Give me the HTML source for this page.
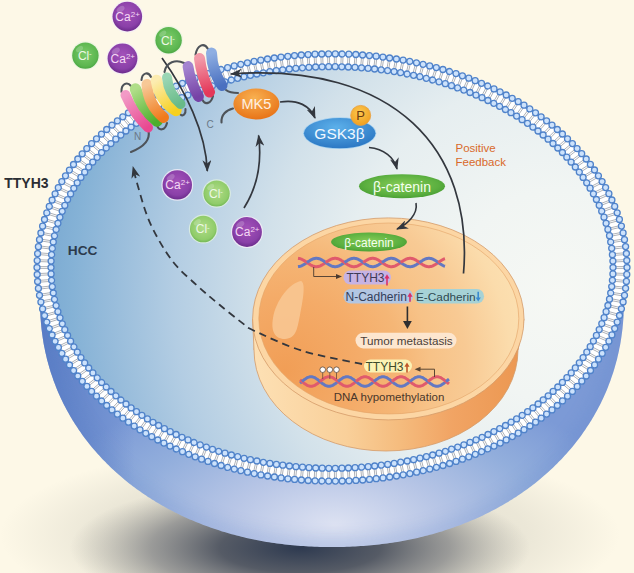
<!DOCTYPE html>
<html><head><meta charset="utf-8"><style>html,body{margin:0;padding:0;background:#fcf8e7;}svg{display:block;}text{font-family:"Liberation Sans",sans-serif;}</style></head>
<body><svg width="634" height="573" viewBox="0 0 634 573">
<defs>
<radialGradient id="shadowC" cx="300" cy="548" r="230" gradientUnits="userSpaceOnUse" gradientTransform="translate(300 548) scale(1 0.3043) translate(-300 -548)">
<stop offset="0" stop-color="#2e3a50" stop-opacity="1"/>
<stop offset="0.35" stop-color="#4e5460" stop-opacity="0.95"/>
<stop offset="0.65" stop-color="#7a7c80" stop-opacity="0.7"/>
<stop offset="1" stop-color="#9a9a94" stop-opacity="0"/>
</radialGradient>
<radialGradient id="shadowW" cx="310" cy="535" r="310" gradientUnits="userSpaceOnUse" gradientTransform="translate(310 535) scale(1 0.3) translate(-310 -535)">
<stop offset="0" stop-color="#8a8a84" stop-opacity="0.3"/>
<stop offset="0.7" stop-color="#9a9a90" stop-opacity="0.18"/>
<stop offset="1" stop-color="#9a9a90" stop-opacity="0"/>
</radialGradient>
<radialGradient id="bowlg" cx="335" cy="525" r="300" gradientUnits="userSpaceOnUse" gradientTransform="translate(335 525) scale(1 0.5) translate(-335 -525)">
<stop offset="0" stop-color="#dde2f2"/>
<stop offset="0.35" stop-color="#b8c6e6"/>
<stop offset="0.7" stop-color="#92aedc"/>
<stop offset="1" stop-color="#7c9ad6"/>
</radialGradient>
<linearGradient id="bowlL" x1="35" y1="0" x2="135" y2="0" gradientUnits="userSpaceOnUse">
<stop offset="0" stop-color="#3e66b8" stop-opacity="0.6"/>
<stop offset="1" stop-color="#3e66b8" stop-opacity="0"/>
</linearGradient>
<radialGradient id="cyto" cx="560" cy="295" r="530" gradientUnits="userSpaceOnUse">
<stop offset="0" stop-color="#f6f8f4"/>
<stop offset="0.2" stop-color="#f1f5f3"/>
<stop offset="0.41" stop-color="#e6eef0"/>
<stop offset="0.56" stop-color="#d2e1ea"/>
<stop offset="0.73" stop-color="#b3cde3"/>
<stop offset="0.86" stop-color="#94bada"/>
<stop offset="0.92" stop-color="#85b2d6"/>
<stop offset="1" stop-color="#76a6d0"/>
</radialGradient>
<linearGradient id="nside" x1="254" y1="0" x2="518" y2="0" gradientUnits="userSpaceOnUse">
<stop offset="0" stop-color="#fde0b4"/>
<stop offset="0.35" stop-color="#f9d09a"/>
<stop offset="0.55" stop-color="#f5bc7e"/>
<stop offset="0.75" stop-color="#f1a464"/>
<stop offset="1" stop-color="#ec9852"/>
</linearGradient>
<radialGradient id="nface" cx="285" cy="370" r="260" gradientUnits="userSpaceOnUse">
<stop offset="0" stop-color="#f19e56"/>
<stop offset="0.28" stop-color="#f4ab68"/>
<stop offset="0.45" stop-color="#f5b676"/>
<stop offset="0.56" stop-color="#f7c287"/>
<stop offset="0.7" stop-color="#f8ca94"/>
<stop offset="0.87" stop-color="#fbdcac"/>
<stop offset="1" stop-color="#fce2b4"/>
</radialGradient>
<radialGradient id="purp" cx="0.5" cy="0.4" r="0.6">
<stop offset="0" stop-color="#a452ba"/>
<stop offset="0.75" stop-color="#8a40a8"/>
<stop offset="1" stop-color="#6c2c8c"/>
</radialGradient>
<radialGradient id="grn" cx="0.5" cy="0.45" r="0.6">
<stop offset="0" stop-color="#7ccc6a"/>
<stop offset="0.75" stop-color="#5cb650"/>
<stop offset="1" stop-color="#44a03e"/>
</radialGradient>
<radialGradient id="lgrn" cx="0.5" cy="0.45" r="0.6">
<stop offset="0" stop-color="#b0dc88"/>
<stop offset="0.75" stop-color="#90cc6a"/>
<stop offset="1" stop-color="#66ae4c"/>
</radialGradient>
<radialGradient id="mk5" cx="0.45" cy="0.3" r="0.7">
<stop offset="0" stop-color="#f8b050"/>
<stop offset="1" stop-color="#e87418"/>
</radialGradient>
<radialGradient id="gsk" cx="0.45" cy="0.3" r="0.7">
<stop offset="0" stop-color="#5cb0ea"/>
<stop offset="1" stop-color="#2c78c4"/>
</radialGradient>
<radialGradient id="bcat" cx="0.5" cy="0.45" r="0.6">
<stop offset="0" stop-color="#86cc56"/>
<stop offset="0.7" stop-color="#5cb040"/>
<stop offset="1" stop-color="#449a30"/>
</radialGradient>
<radialGradient id="pg" cx="0.45" cy="0.35" r="0.65">
<stop offset="0" stop-color="#fcc850"/>
<stop offset="1" stop-color="#f0a020"/>
</radialGradient>
<filter id="blur1" x="-50%" y="-100%" width="200%" height="300%"><feGaussianBlur stdDeviation="24"/></filter>
<filter id="blur2" x="-50%" y="-100%" width="200%" height="300%"><feGaussianBlur stdDeviation="13"/></filter>
<filter id="blur3" x="-20%" y="-20%" width="140%" height="140%"><feGaussianBlur stdDeviation="9"/></filter>
<marker id="ah" viewBox="0 0 12 9" refX="11" refY="4.5" markerWidth="12" markerHeight="9" markerUnits="userSpaceOnUse" orient="auto">
<path d="M0,0 L12,4.5 L0,9 L3.5,4.5 Z" fill="#33373e"/>
</marker>
</defs>
<rect width="634" height="573" fill="#fdf8e7"/>
<rect x="0" y="440" width="634" height="133" fill="url(#shadowW)"/>
<rect x="0" y="470" width="634" height="103" fill="url(#shadowC)"/>
<clipPath id="bowlclip"><path d="M 624,262 L 624,300 L 624,302.7 L 624,305.2 L 623.9,307.7 L 623.8,310.1 L 623.7,312.5 L 623.6,314.9 L 623.5,317.2 L 623.3,319.6 L 623.1,321.9 L 622.9,324.2 L 622.7,326.5 L 622.5,328.7 L 622.2,331 L 621.9,333.3 L 621.6,335.5 L 621.3,337.8 L 620.9,340 L 620.6,342.2 L 620.2,344.4 L 619.8,346.6 L 619.3,348.8 L 618.9,351 L 618.4,353.2 L 617.9,355.3 L 617.4,357.5 L 616.9,359.7 L 616.3,361.8 L 615.7,363.9 L 615.1,366.1 L 614.5,368.2 L 613.9,370.3 L 613.2,372.4 L 612.5,374.5 L 611.8,376.6 L 611.1,378.6 L 610.4,380.7 L 609.6,382.8 L 608.8,384.8 L 608,386.9 L 607.2,388.9 L 606.4,390.9 L 605.5,392.9 L 604.6,395 L 603.7,397 L 602.8,398.9 L 601.8,400.9 L 600.9,402.9 L 599.9,404.9 L 598.9,406.8 L 597.9,408.8 L 596.8,410.7 L 595.8,412.6 L 594.7,414.5 L 593.6,416.4 L 592.5,418.3 L 591.4,420.2 L 590.2,422.1 L 589,423.9 L 587.8,425.8 L 586.6,427.6 L 585.4,429.5 L 584.1,431.3 L 582.9,433.1 L 581.6,434.9 L 580.3,436.7 L 579,438.5 L 577.6,440.2 L 576.2,442 L 574.9,443.7 L 573.5,445.5 L 572.1,447.2 L 570.6,448.9 L 569.2,450.6 L 567.7,452.3 L 566.2,454 L 564.7,455.6 L 563.2,457.3 L 561.7,458.9 L 560.1,460.5 L 558.5,462.1 L 557,463.7 L 555.3,465.3 L 553.7,466.9 L 552.1,468.5 L 550.4,470 L 548.8,471.6 L 547.1,473.1 L 545.4,474.6 L 543.6,476.1 L 541.9,477.6 L 540.2,479 L 538.4,480.5 L 536.6,481.9 L 534.8,483.4 L 533,484.8 L 531.2,486.2 L 529.3,487.6 L 527.5,488.9 L 525.6,490.3 L 523.7,491.6 L 521.8,493 L 519.9,494.3 L 517.9,495.6 L 516,496.9 L 514,498.1 L 512,499.4 L 510,500.6 L 508,501.9 L 506,503.1 L 504,504.3 L 501.9,505.4 L 499.9,506.6 L 497.8,507.8 L 495.7,508.9 L 493.6,510 L 491.5,511.1 L 489.4,512.2 L 487.2,513.3 L 485.1,514.3 L 482.9,515.4 L 480.7,516.4 L 478.5,517.4 L 476.3,518.4 L 474.1,519.4 L 471.9,520.3 L 469.6,521.3 L 467.4,522.2 L 465.1,523.1 L 462.9,524 L 460.6,524.9 L 458.3,525.8 L 456,526.6 L 453.6,527.4 L 451.3,528.3 L 449,529.1 L 446.6,529.8 L 444.3,530.6 L 441.9,531.4 L 439.5,532.1 L 437.1,532.8 L 434.7,533.5 L 432.3,534.2 L 429.9,534.8 L 427.4,535.5 L 425,536.1 L 422.5,536.7 L 420.1,537.3 L 417.6,537.9 L 415.1,538.4 L 412.6,539 L 410.1,539.5 L 407.6,540 L 405.1,540.5 L 402.5,541 L 400,541.4 L 397.4,541.9 L 394.9,542.3 L 392.3,542.7 L 389.7,543.1 L 387.1,543.4 L 384.5,543.8 L 381.9,544.1 L 379.3,544.4 L 376.6,544.7 L 374,545 L 371.3,545.2 L 368.7,545.5 L 366,545.7 L 363.3,545.9 L 360.6,546.1 L 357.9,546.3 L 355.1,546.4 L 352.4,546.6 L 349.6,546.7 L 346.8,546.8 L 344,546.9 L 341.1,546.9 L 338.2,547 L 335.2,547 L 332,547 L 328.8,547 L 325.8,547 L 322.9,546.9 L 320,546.9 L 317.2,546.8 L 314.4,546.7 L 311.6,546.6 L 308.9,546.4 L 306.1,546.3 L 303.4,546.1 L 300.7,545.9 L 298,545.7 L 295.3,545.5 L 292.7,545.2 L 290,545 L 287.4,544.7 L 284.7,544.4 L 282.1,544.1 L 279.5,543.8 L 276.9,543.4 L 274.3,543.1 L 271.7,542.7 L 269.1,542.3 L 266.6,541.9 L 264,541.4 L 261.5,541 L 258.9,540.5 L 256.4,540 L 253.9,539.5 L 251.4,539 L 248.9,538.4 L 246.4,537.9 L 243.9,537.3 L 241.5,536.7 L 239,536.1 L 236.6,535.5 L 234.1,534.8 L 231.7,534.2 L 229.3,533.5 L 226.9,532.8 L 224.5,532.1 L 222.1,531.4 L 219.7,530.6 L 217.4,529.8 L 215,529.1 L 212.7,528.3 L 210.4,527.4 L 208,526.6 L 205.7,525.8 L 203.4,524.9 L 201.1,524 L 198.9,523.1 L 196.6,522.2 L 194.4,521.3 L 192.1,520.3 L 189.9,519.4 L 187.7,518.4 L 185.5,517.4 L 183.3,516.4 L 181.1,515.4 L 178.9,514.3 L 176.8,513.3 L 174.6,512.2 L 172.5,511.1 L 170.4,510 L 168.3,508.9 L 166.2,507.8 L 164.1,506.6 L 162.1,505.4 L 160,504.3 L 158,503.1 L 156,501.9 L 154,500.6 L 152,499.4 L 150,498.1 L 148,496.9 L 146.1,495.6 L 144.1,494.3 L 142.2,493 L 140.3,491.6 L 138.4,490.3 L 136.5,488.9 L 134.7,487.6 L 132.8,486.2 L 131,484.8 L 129.2,483.4 L 127.4,481.9 L 125.6,480.5 L 123.8,479 L 122.1,477.6 L 120.4,476.1 L 118.6,474.6 L 116.9,473.1 L 115.2,471.6 L 113.6,470 L 111.9,468.5 L 110.3,466.9 L 108.7,465.3 L 107,463.7 L 105.5,462.1 L 103.9,460.5 L 102.3,458.9 L 100.8,457.3 L 99.3,455.6 L 97.8,454 L 96.3,452.3 L 94.8,450.6 L 93.4,448.9 L 91.9,447.2 L 90.5,445.5 L 89.1,443.7 L 87.8,442 L 86.4,440.2 L 85,438.5 L 83.7,436.7 L 82.4,434.9 L 81.1,433.1 L 79.9,431.3 L 78.6,429.5 L 77.4,427.6 L 76.2,425.8 L 75,423.9 L 73.8,422.1 L 72.6,420.2 L 71.5,418.3 L 70.4,416.4 L 69.3,414.5 L 68.2,412.6 L 67.2,410.7 L 66.1,408.8 L 65.1,406.8 L 64.1,404.9 L 63.1,402.9 L 62.2,400.9 L 61.2,398.9 L 60.3,397 L 59.4,395 L 58.5,392.9 L 57.6,390.9 L 56.8,388.9 L 56,386.9 L 55.2,384.8 L 54.4,382.8 L 53.6,380.7 L 52.9,378.6 L 52.2,376.6 L 51.5,374.5 L 50.8,372.4 L 50.1,370.3 L 49.5,368.2 L 48.9,366.1 L 48.3,363.9 L 47.7,361.8 L 47.1,359.7 L 46.6,357.5 L 46.1,355.3 L 45.6,353.2 L 45.1,351 L 44.7,348.8 L 44.2,346.6 L 43.8,344.4 L 43.4,342.2 L 43.1,340 L 42.7,337.8 L 42.4,335.5 L 42.1,333.3 L 41.8,331 L 41.5,328.7 L 41.3,326.5 L 41.1,324.2 L 40.9,321.9 L 40.7,319.6 L 40.5,317.2 L 40.4,314.9 L 40.3,312.5 L 40.2,310.1 L 40.1,307.7 L 40,305.2 L 40,302.7 L 40,300 L 40,262 Z"/></clipPath>
<path d="M 624,262 L 624,300 L 624,302.7 L 624,305.2 L 623.9,307.7 L 623.8,310.1 L 623.7,312.5 L 623.6,314.9 L 623.5,317.2 L 623.3,319.6 L 623.1,321.9 L 622.9,324.2 L 622.7,326.5 L 622.5,328.7 L 622.2,331 L 621.9,333.3 L 621.6,335.5 L 621.3,337.8 L 620.9,340 L 620.6,342.2 L 620.2,344.4 L 619.8,346.6 L 619.3,348.8 L 618.9,351 L 618.4,353.2 L 617.9,355.3 L 617.4,357.5 L 616.9,359.7 L 616.3,361.8 L 615.7,363.9 L 615.1,366.1 L 614.5,368.2 L 613.9,370.3 L 613.2,372.4 L 612.5,374.5 L 611.8,376.6 L 611.1,378.6 L 610.4,380.7 L 609.6,382.8 L 608.8,384.8 L 608,386.9 L 607.2,388.9 L 606.4,390.9 L 605.5,392.9 L 604.6,395 L 603.7,397 L 602.8,398.9 L 601.8,400.9 L 600.9,402.9 L 599.9,404.9 L 598.9,406.8 L 597.9,408.8 L 596.8,410.7 L 595.8,412.6 L 594.7,414.5 L 593.6,416.4 L 592.5,418.3 L 591.4,420.2 L 590.2,422.1 L 589,423.9 L 587.8,425.8 L 586.6,427.6 L 585.4,429.5 L 584.1,431.3 L 582.9,433.1 L 581.6,434.9 L 580.3,436.7 L 579,438.5 L 577.6,440.2 L 576.2,442 L 574.9,443.7 L 573.5,445.5 L 572.1,447.2 L 570.6,448.9 L 569.2,450.6 L 567.7,452.3 L 566.2,454 L 564.7,455.6 L 563.2,457.3 L 561.7,458.9 L 560.1,460.5 L 558.5,462.1 L 557,463.7 L 555.3,465.3 L 553.7,466.9 L 552.1,468.5 L 550.4,470 L 548.8,471.6 L 547.1,473.1 L 545.4,474.6 L 543.6,476.1 L 541.9,477.6 L 540.2,479 L 538.4,480.5 L 536.6,481.9 L 534.8,483.4 L 533,484.8 L 531.2,486.2 L 529.3,487.6 L 527.5,488.9 L 525.6,490.3 L 523.7,491.6 L 521.8,493 L 519.9,494.3 L 517.9,495.6 L 516,496.9 L 514,498.1 L 512,499.4 L 510,500.6 L 508,501.9 L 506,503.1 L 504,504.3 L 501.9,505.4 L 499.9,506.6 L 497.8,507.8 L 495.7,508.9 L 493.6,510 L 491.5,511.1 L 489.4,512.2 L 487.2,513.3 L 485.1,514.3 L 482.9,515.4 L 480.7,516.4 L 478.5,517.4 L 476.3,518.4 L 474.1,519.4 L 471.9,520.3 L 469.6,521.3 L 467.4,522.2 L 465.1,523.1 L 462.9,524 L 460.6,524.9 L 458.3,525.8 L 456,526.6 L 453.6,527.4 L 451.3,528.3 L 449,529.1 L 446.6,529.8 L 444.3,530.6 L 441.9,531.4 L 439.5,532.1 L 437.1,532.8 L 434.7,533.5 L 432.3,534.2 L 429.9,534.8 L 427.4,535.5 L 425,536.1 L 422.5,536.7 L 420.1,537.3 L 417.6,537.9 L 415.1,538.4 L 412.6,539 L 410.1,539.5 L 407.6,540 L 405.1,540.5 L 402.5,541 L 400,541.4 L 397.4,541.9 L 394.9,542.3 L 392.3,542.7 L 389.7,543.1 L 387.1,543.4 L 384.5,543.8 L 381.9,544.1 L 379.3,544.4 L 376.6,544.7 L 374,545 L 371.3,545.2 L 368.7,545.5 L 366,545.7 L 363.3,545.9 L 360.6,546.1 L 357.9,546.3 L 355.1,546.4 L 352.4,546.6 L 349.6,546.7 L 346.8,546.8 L 344,546.9 L 341.1,546.9 L 338.2,547 L 335.2,547 L 332,547 L 328.8,547 L 325.8,547 L 322.9,546.9 L 320,546.9 L 317.2,546.8 L 314.4,546.7 L 311.6,546.6 L 308.9,546.4 L 306.1,546.3 L 303.4,546.1 L 300.7,545.9 L 298,545.7 L 295.3,545.5 L 292.7,545.2 L 290,545 L 287.4,544.7 L 284.7,544.4 L 282.1,544.1 L 279.5,543.8 L 276.9,543.4 L 274.3,543.1 L 271.7,542.7 L 269.1,542.3 L 266.6,541.9 L 264,541.4 L 261.5,541 L 258.9,540.5 L 256.4,540 L 253.9,539.5 L 251.4,539 L 248.9,538.4 L 246.4,537.9 L 243.9,537.3 L 241.5,536.7 L 239,536.1 L 236.6,535.5 L 234.1,534.8 L 231.7,534.2 L 229.3,533.5 L 226.9,532.8 L 224.5,532.1 L 222.1,531.4 L 219.7,530.6 L 217.4,529.8 L 215,529.1 L 212.7,528.3 L 210.4,527.4 L 208,526.6 L 205.7,525.8 L 203.4,524.9 L 201.1,524 L 198.9,523.1 L 196.6,522.2 L 194.4,521.3 L 192.1,520.3 L 189.9,519.4 L 187.7,518.4 L 185.5,517.4 L 183.3,516.4 L 181.1,515.4 L 178.9,514.3 L 176.8,513.3 L 174.6,512.2 L 172.5,511.1 L 170.4,510 L 168.3,508.9 L 166.2,507.8 L 164.1,506.6 L 162.1,505.4 L 160,504.3 L 158,503.1 L 156,501.9 L 154,500.6 L 152,499.4 L 150,498.1 L 148,496.9 L 146.1,495.6 L 144.1,494.3 L 142.2,493 L 140.3,491.6 L 138.4,490.3 L 136.5,488.9 L 134.7,487.6 L 132.8,486.2 L 131,484.8 L 129.2,483.4 L 127.4,481.9 L 125.6,480.5 L 123.8,479 L 122.1,477.6 L 120.4,476.1 L 118.6,474.6 L 116.9,473.1 L 115.2,471.6 L 113.6,470 L 111.9,468.5 L 110.3,466.9 L 108.7,465.3 L 107,463.7 L 105.5,462.1 L 103.9,460.5 L 102.3,458.9 L 100.8,457.3 L 99.3,455.6 L 97.8,454 L 96.3,452.3 L 94.8,450.6 L 93.4,448.9 L 91.9,447.2 L 90.5,445.5 L 89.1,443.7 L 87.8,442 L 86.4,440.2 L 85,438.5 L 83.7,436.7 L 82.4,434.9 L 81.1,433.1 L 79.9,431.3 L 78.6,429.5 L 77.4,427.6 L 76.2,425.8 L 75,423.9 L 73.8,422.1 L 72.6,420.2 L 71.5,418.3 L 70.4,416.4 L 69.3,414.5 L 68.2,412.6 L 67.2,410.7 L 66.1,408.8 L 65.1,406.8 L 64.1,404.9 L 63.1,402.9 L 62.2,400.9 L 61.2,398.9 L 60.3,397 L 59.4,395 L 58.5,392.9 L 57.6,390.9 L 56.8,388.9 L 56,386.9 L 55.2,384.8 L 54.4,382.8 L 53.6,380.7 L 52.9,378.6 L 52.2,376.6 L 51.5,374.5 L 50.8,372.4 L 50.1,370.3 L 49.5,368.2 L 48.9,366.1 L 48.3,363.9 L 47.7,361.8 L 47.1,359.7 L 46.6,357.5 L 46.1,355.3 L 45.6,353.2 L 45.1,351 L 44.7,348.8 L 44.2,346.6 L 43.8,344.4 L 43.4,342.2 L 43.1,340 L 42.7,337.8 L 42.4,335.5 L 42.1,333.3 L 41.8,331 L 41.5,328.7 L 41.3,326.5 L 41.1,324.2 L 40.9,321.9 L 40.7,319.6 L 40.5,317.2 L 40.4,314.9 L 40.3,312.5 L 40.2,310.1 L 40.1,307.7 L 40,305.2 L 40,302.7 L 40,300 L 40,262 Z" fill="url(#bowlg)"/>
<path d="M 624,262 L 624,300 L 624,302.7 L 624,305.2 L 623.9,307.7 L 623.8,310.1 L 623.7,312.5 L 623.6,314.9 L 623.5,317.2 L 623.3,319.6 L 623.1,321.9 L 622.9,324.2 L 622.7,326.5 L 622.5,328.7 L 622.2,331 L 621.9,333.3 L 621.6,335.5 L 621.3,337.8 L 620.9,340 L 620.6,342.2 L 620.2,344.4 L 619.8,346.6 L 619.3,348.8 L 618.9,351 L 618.4,353.2 L 617.9,355.3 L 617.4,357.5 L 616.9,359.7 L 616.3,361.8 L 615.7,363.9 L 615.1,366.1 L 614.5,368.2 L 613.9,370.3 L 613.2,372.4 L 612.5,374.5 L 611.8,376.6 L 611.1,378.6 L 610.4,380.7 L 609.6,382.8 L 608.8,384.8 L 608,386.9 L 607.2,388.9 L 606.4,390.9 L 605.5,392.9 L 604.6,395 L 603.7,397 L 602.8,398.9 L 601.8,400.9 L 600.9,402.9 L 599.9,404.9 L 598.9,406.8 L 597.9,408.8 L 596.8,410.7 L 595.8,412.6 L 594.7,414.5 L 593.6,416.4 L 592.5,418.3 L 591.4,420.2 L 590.2,422.1 L 589,423.9 L 587.8,425.8 L 586.6,427.6 L 585.4,429.5 L 584.1,431.3 L 582.9,433.1 L 581.6,434.9 L 580.3,436.7 L 579,438.5 L 577.6,440.2 L 576.2,442 L 574.9,443.7 L 573.5,445.5 L 572.1,447.2 L 570.6,448.9 L 569.2,450.6 L 567.7,452.3 L 566.2,454 L 564.7,455.6 L 563.2,457.3 L 561.7,458.9 L 560.1,460.5 L 558.5,462.1 L 557,463.7 L 555.3,465.3 L 553.7,466.9 L 552.1,468.5 L 550.4,470 L 548.8,471.6 L 547.1,473.1 L 545.4,474.6 L 543.6,476.1 L 541.9,477.6 L 540.2,479 L 538.4,480.5 L 536.6,481.9 L 534.8,483.4 L 533,484.8 L 531.2,486.2 L 529.3,487.6 L 527.5,488.9 L 525.6,490.3 L 523.7,491.6 L 521.8,493 L 519.9,494.3 L 517.9,495.6 L 516,496.9 L 514,498.1 L 512,499.4 L 510,500.6 L 508,501.9 L 506,503.1 L 504,504.3 L 501.9,505.4 L 499.9,506.6 L 497.8,507.8 L 495.7,508.9 L 493.6,510 L 491.5,511.1 L 489.4,512.2 L 487.2,513.3 L 485.1,514.3 L 482.9,515.4 L 480.7,516.4 L 478.5,517.4 L 476.3,518.4 L 474.1,519.4 L 471.9,520.3 L 469.6,521.3 L 467.4,522.2 L 465.1,523.1 L 462.9,524 L 460.6,524.9 L 458.3,525.8 L 456,526.6 L 453.6,527.4 L 451.3,528.3 L 449,529.1 L 446.6,529.8 L 444.3,530.6 L 441.9,531.4 L 439.5,532.1 L 437.1,532.8 L 434.7,533.5 L 432.3,534.2 L 429.9,534.8 L 427.4,535.5 L 425,536.1 L 422.5,536.7 L 420.1,537.3 L 417.6,537.9 L 415.1,538.4 L 412.6,539 L 410.1,539.5 L 407.6,540 L 405.1,540.5 L 402.5,541 L 400,541.4 L 397.4,541.9 L 394.9,542.3 L 392.3,542.7 L 389.7,543.1 L 387.1,543.4 L 384.5,543.8 L 381.9,544.1 L 379.3,544.4 L 376.6,544.7 L 374,545 L 371.3,545.2 L 368.7,545.5 L 366,545.7 L 363.3,545.9 L 360.6,546.1 L 357.9,546.3 L 355.1,546.4 L 352.4,546.6 L 349.6,546.7 L 346.8,546.8 L 344,546.9 L 341.1,546.9 L 338.2,547 L 335.2,547 L 332,547 L 328.8,547 L 325.8,547 L 322.9,546.9 L 320,546.9 L 317.2,546.8 L 314.4,546.7 L 311.6,546.6 L 308.9,546.4 L 306.1,546.3 L 303.4,546.1 L 300.7,545.9 L 298,545.7 L 295.3,545.5 L 292.7,545.2 L 290,545 L 287.4,544.7 L 284.7,544.4 L 282.1,544.1 L 279.5,543.8 L 276.9,543.4 L 274.3,543.1 L 271.7,542.7 L 269.1,542.3 L 266.6,541.9 L 264,541.4 L 261.5,541 L 258.9,540.5 L 256.4,540 L 253.9,539.5 L 251.4,539 L 248.9,538.4 L 246.4,537.9 L 243.9,537.3 L 241.5,536.7 L 239,536.1 L 236.6,535.5 L 234.1,534.8 L 231.7,534.2 L 229.3,533.5 L 226.9,532.8 L 224.5,532.1 L 222.1,531.4 L 219.7,530.6 L 217.4,529.8 L 215,529.1 L 212.7,528.3 L 210.4,527.4 L 208,526.6 L 205.7,525.8 L 203.4,524.9 L 201.1,524 L 198.9,523.1 L 196.6,522.2 L 194.4,521.3 L 192.1,520.3 L 189.9,519.4 L 187.7,518.4 L 185.5,517.4 L 183.3,516.4 L 181.1,515.4 L 178.9,514.3 L 176.8,513.3 L 174.6,512.2 L 172.5,511.1 L 170.4,510 L 168.3,508.9 L 166.2,507.8 L 164.1,506.6 L 162.1,505.4 L 160,504.3 L 158,503.1 L 156,501.9 L 154,500.6 L 152,499.4 L 150,498.1 L 148,496.9 L 146.1,495.6 L 144.1,494.3 L 142.2,493 L 140.3,491.6 L 138.4,490.3 L 136.5,488.9 L 134.7,487.6 L 132.8,486.2 L 131,484.8 L 129.2,483.4 L 127.4,481.9 L 125.6,480.5 L 123.8,479 L 122.1,477.6 L 120.4,476.1 L 118.6,474.6 L 116.9,473.1 L 115.2,471.6 L 113.6,470 L 111.9,468.5 L 110.3,466.9 L 108.7,465.3 L 107,463.7 L 105.5,462.1 L 103.9,460.5 L 102.3,458.9 L 100.8,457.3 L 99.3,455.6 L 97.8,454 L 96.3,452.3 L 94.8,450.6 L 93.4,448.9 L 91.9,447.2 L 90.5,445.5 L 89.1,443.7 L 87.8,442 L 86.4,440.2 L 85,438.5 L 83.7,436.7 L 82.4,434.9 L 81.1,433.1 L 79.9,431.3 L 78.6,429.5 L 77.4,427.6 L 76.2,425.8 L 75,423.9 L 73.8,422.1 L 72.6,420.2 L 71.5,418.3 L 70.4,416.4 L 69.3,414.5 L 68.2,412.6 L 67.2,410.7 L 66.1,408.8 L 65.1,406.8 L 64.1,404.9 L 63.1,402.9 L 62.2,400.9 L 61.2,398.9 L 60.3,397 L 59.4,395 L 58.5,392.9 L 57.6,390.9 L 56.8,388.9 L 56,386.9 L 55.2,384.8 L 54.4,382.8 L 53.6,380.7 L 52.9,378.6 L 52.2,376.6 L 51.5,374.5 L 50.8,372.4 L 50.1,370.3 L 49.5,368.2 L 48.9,366.1 L 48.3,363.9 L 47.7,361.8 L 47.1,359.7 L 46.6,357.5 L 46.1,355.3 L 45.6,353.2 L 45.1,351 L 44.7,348.8 L 44.2,346.6 L 43.8,344.4 L 43.4,342.2 L 43.1,340 L 42.7,337.8 L 42.4,335.5 L 42.1,333.3 L 41.8,331 L 41.5,328.7 L 41.3,326.5 L 41.1,324.2 L 40.9,321.9 L 40.7,319.6 L 40.5,317.2 L 40.4,314.9 L 40.3,312.5 L 40.2,310.1 L 40.1,307.7 L 40,305.2 L 40,302.7 L 40,300 L 40,262 Z" fill="url(#bowlL)"/>
<g clip-path="url(#bowlclip)"><path d="M 624,262 L 624,300 L 624,302.7 L 624,305.2 L 623.9,307.7 L 623.8,310.1 L 623.7,312.5 L 623.6,314.9 L 623.5,317.2 L 623.3,319.6 L 623.1,321.9 L 622.9,324.2 L 622.7,326.5 L 622.5,328.7 L 622.2,331 L 621.9,333.3 L 621.6,335.5 L 621.3,337.8 L 620.9,340 L 620.6,342.2 L 620.2,344.4 L 619.8,346.6 L 619.3,348.8 L 618.9,351 L 618.4,353.2 L 617.9,355.3 L 617.4,357.5 L 616.9,359.7 L 616.3,361.8 L 615.7,363.9 L 615.1,366.1 L 614.5,368.2 L 613.9,370.3 L 613.2,372.4 L 612.5,374.5 L 611.8,376.6 L 611.1,378.6 L 610.4,380.7 L 609.6,382.8 L 608.8,384.8 L 608,386.9 L 607.2,388.9 L 606.4,390.9 L 605.5,392.9 L 604.6,395 L 603.7,397 L 602.8,398.9 L 601.8,400.9 L 600.9,402.9 L 599.9,404.9 L 598.9,406.8 L 597.9,408.8 L 596.8,410.7 L 595.8,412.6 L 594.7,414.5 L 593.6,416.4 L 592.5,418.3 L 591.4,420.2 L 590.2,422.1 L 589,423.9 L 587.8,425.8 L 586.6,427.6 L 585.4,429.5 L 584.1,431.3 L 582.9,433.1 L 581.6,434.9 L 580.3,436.7 L 579,438.5 L 577.6,440.2 L 576.2,442 L 574.9,443.7 L 573.5,445.5 L 572.1,447.2 L 570.6,448.9 L 569.2,450.6 L 567.7,452.3 L 566.2,454 L 564.7,455.6 L 563.2,457.3 L 561.7,458.9 L 560.1,460.5 L 558.5,462.1 L 557,463.7 L 555.3,465.3 L 553.7,466.9 L 552.1,468.5 L 550.4,470 L 548.8,471.6 L 547.1,473.1 L 545.4,474.6 L 543.6,476.1 L 541.9,477.6 L 540.2,479 L 538.4,480.5 L 536.6,481.9 L 534.8,483.4 L 533,484.8 L 531.2,486.2 L 529.3,487.6 L 527.5,488.9 L 525.6,490.3 L 523.7,491.6 L 521.8,493 L 519.9,494.3 L 517.9,495.6 L 516,496.9 L 514,498.1 L 512,499.4 L 510,500.6 L 508,501.9 L 506,503.1 L 504,504.3 L 501.9,505.4 L 499.9,506.6 L 497.8,507.8 L 495.7,508.9 L 493.6,510 L 491.5,511.1 L 489.4,512.2 L 487.2,513.3 L 485.1,514.3 L 482.9,515.4 L 480.7,516.4 L 478.5,517.4 L 476.3,518.4 L 474.1,519.4 L 471.9,520.3 L 469.6,521.3 L 467.4,522.2 L 465.1,523.1 L 462.9,524 L 460.6,524.9 L 458.3,525.8 L 456,526.6 L 453.6,527.4 L 451.3,528.3 L 449,529.1 L 446.6,529.8 L 444.3,530.6 L 441.9,531.4 L 439.5,532.1 L 437.1,532.8 L 434.7,533.5 L 432.3,534.2 L 429.9,534.8 L 427.4,535.5 L 425,536.1 L 422.5,536.7 L 420.1,537.3 L 417.6,537.9 L 415.1,538.4 L 412.6,539 L 410.1,539.5 L 407.6,540 L 405.1,540.5 L 402.5,541 L 400,541.4 L 397.4,541.9 L 394.9,542.3 L 392.3,542.7 L 389.7,543.1 L 387.1,543.4 L 384.5,543.8 L 381.9,544.1 L 379.3,544.4 L 376.6,544.7 L 374,545 L 371.3,545.2 L 368.7,545.5 L 366,545.7 L 363.3,545.9 L 360.6,546.1 L 357.9,546.3 L 355.1,546.4 L 352.4,546.6 L 349.6,546.7 L 346.8,546.8 L 344,546.9 L 341.1,546.9 L 338.2,547 L 335.2,547 L 332,547 L 328.8,547 L 325.8,547 L 322.9,546.9 L 320,546.9 L 317.2,546.8 L 314.4,546.7 L 311.6,546.6 L 308.9,546.4 L 306.1,546.3 L 303.4,546.1 L 300.7,545.9 L 298,545.7 L 295.3,545.5 L 292.7,545.2 L 290,545 L 287.4,544.7 L 284.7,544.4 L 282.1,544.1 L 279.5,543.8 L 276.9,543.4 L 274.3,543.1 L 271.7,542.7 L 269.1,542.3 L 266.6,541.9 L 264,541.4 L 261.5,541 L 258.9,540.5 L 256.4,540 L 253.9,539.5 L 251.4,539 L 248.9,538.4 L 246.4,537.9 L 243.9,537.3 L 241.5,536.7 L 239,536.1 L 236.6,535.5 L 234.1,534.8 L 231.7,534.2 L 229.3,533.5 L 226.9,532.8 L 224.5,532.1 L 222.1,531.4 L 219.7,530.6 L 217.4,529.8 L 215,529.1 L 212.7,528.3 L 210.4,527.4 L 208,526.6 L 205.7,525.8 L 203.4,524.9 L 201.1,524 L 198.9,523.1 L 196.6,522.2 L 194.4,521.3 L 192.1,520.3 L 189.9,519.4 L 187.7,518.4 L 185.5,517.4 L 183.3,516.4 L 181.1,515.4 L 178.9,514.3 L 176.8,513.3 L 174.6,512.2 L 172.5,511.1 L 170.4,510 L 168.3,508.9 L 166.2,507.8 L 164.1,506.6 L 162.1,505.4 L 160,504.3 L 158,503.1 L 156,501.9 L 154,500.6 L 152,499.4 L 150,498.1 L 148,496.9 L 146.1,495.6 L 144.1,494.3 L 142.2,493 L 140.3,491.6 L 138.4,490.3 L 136.5,488.9 L 134.7,487.6 L 132.8,486.2 L 131,484.8 L 129.2,483.4 L 127.4,481.9 L 125.6,480.5 L 123.8,479 L 122.1,477.6 L 120.4,476.1 L 118.6,474.6 L 116.9,473.1 L 115.2,471.6 L 113.6,470 L 111.9,468.5 L 110.3,466.9 L 108.7,465.3 L 107,463.7 L 105.5,462.1 L 103.9,460.5 L 102.3,458.9 L 100.8,457.3 L 99.3,455.6 L 97.8,454 L 96.3,452.3 L 94.8,450.6 L 93.4,448.9 L 91.9,447.2 L 90.5,445.5 L 89.1,443.7 L 87.8,442 L 86.4,440.2 L 85,438.5 L 83.7,436.7 L 82.4,434.9 L 81.1,433.1 L 79.9,431.3 L 78.6,429.5 L 77.4,427.6 L 76.2,425.8 L 75,423.9 L 73.8,422.1 L 72.6,420.2 L 71.5,418.3 L 70.4,416.4 L 69.3,414.5 L 68.2,412.6 L 67.2,410.7 L 66.1,408.8 L 65.1,406.8 L 64.1,404.9 L 63.1,402.9 L 62.2,400.9 L 61.2,398.9 L 60.3,397 L 59.4,395 L 58.5,392.9 L 57.6,390.9 L 56.8,388.9 L 56,386.9 L 55.2,384.8 L 54.4,382.8 L 53.6,380.7 L 52.9,378.6 L 52.2,376.6 L 51.5,374.5 L 50.8,372.4 L 50.1,370.3 L 49.5,368.2 L 48.9,366.1 L 48.3,363.9 L 47.7,361.8 L 47.1,359.7 L 46.6,357.5 L 46.1,355.3 L 45.6,353.2 L 45.1,351 L 44.7,348.8 L 44.2,346.6 L 43.8,344.4 L 43.4,342.2 L 43.1,340 L 42.7,337.8 L 42.4,335.5 L 42.1,333.3 L 41.8,331 L 41.5,328.7 L 41.3,326.5 L 41.1,324.2 L 40.9,321.9 L 40.7,319.6 L 40.5,317.2 L 40.4,314.9 L 40.3,312.5 L 40.2,310.1 L 40.1,307.7 L 40,305.2 L 40,302.7 L 40,300 L 40,262 Z" fill="none" stroke="#5a7ec6" stroke-width="10" filter="url(#blur3)" opacity="0.35"/></g>
<ellipse cx="332" cy="267.5" rx="288" ry="207.2" fill="url(#cyto)"/>
<ellipse cx="332" cy="267.5" rx="288" ry="207.2" fill="none" stroke="#ffffff" stroke-width="13"/>
<path d="M624.4 266.6L615.6 266.6 M624.4 268.4L615.6 268.4 M624.3 273.4L615.5 273.1 M624.2 275.2L615.4 274.9 M623.9 280.3L615.1 279.6 M623.7 282.1L614.9 281.4 M623.1 287.1L614.4 286.1 M622.9 288.9L614.2 287.8 M622.1 293.9L613.4 292.6 M621.8 295.7L613.1 294.3 M620.8 300.6L612.2 298.9 M620.4 302.3L611.8 300.7 M619.2 307.3L610.7 305.3 M618.7 309L610.2 307 M617.3 313.9L608.9 311.6 M616.7 315.6L608.3 313.3 M615.1 320.4L606.8 317.8 M614.5 322.1L606.2 319.5 M612.6 326.7L604.5 323.9 M612 328.4L603.8 325.5 M609.9 333L601.9 329.9 M609.2 334.7L601.2 331.5 M607 339.2L599.1 335.8 M606.2 340.8L598.3 337.4 M603.8 345.3L596.1 341.6 M603 346.8L595.3 343.2 M600.4 351.2L592.9 347.3 M599.5 352.8L591.9 348.9 M596.8 357L589.4 352.9 M595.8 358.5L588.5 354.4 M593 362.7L585.8 358.3 M591.9 364.2L584.7 359.8 M588.9 368.2L581.9 363.6 M587.9 369.7L580.8 365.1 M584.7 373.6L577.9 368.8 M583.6 375L576.8 370.2 M580.4 378.9L573.7 373.9 M579.2 380.2L572.6 375.3 M575.9 384L569.4 378.8 M574.6 385.3L568.2 380.1 M571.2 388.9L564.9 383.6 M569.9 390.2L563.6 384.9 M566.4 393.7L560.3 388.2 M565.1 394.9L559 389.5 M561.4 398.4L555.5 392.7 M560.1 399.6L554.2 394 M556.3 402.9L550.6 397.1 M554.9 404.1L549.2 398.3 M551.1 407.3L545.5 401.4 M549.7 408.4L544.1 402.5 M545.8 411.5L540.4 405.5 M544.3 412.6L539 406.6 M540.4 415.6L535.2 409.4 M538.9 416.6L533.7 410.5 M534.8 419.5L529.8 413.3 M533.3 420.6L528.3 414.3 M529.2 423.3L524.4 417 M527.7 424.3L522.9 418 M523.4 427L518.8 420.6 M521.9 428L517.3 421.5 M517.7 430.5L513.2 424 M516.1 431.5L511.7 424.9 M511.8 433.9L507.5 427.3 M510.2 434.8L505.9 428.2 M505.8 437.2L501.7 430.5 M504.2 438.1L500.1 431.3 M499.8 440.4L495.8 433.6 M498.2 441.2L494.2 434.4 M493.7 443.3L489.9 436.5 M492.1 444.1L488.3 437.2 M487.6 446.2L484 439.3 M485.9 446.9L482.3 440 M481.4 448.9L477.9 441.9 M479.7 449.6L476.3 442.6 M475.1 451.5L471.8 444.5 M473.5 452.2L470.2 445.2 M468.8 454L465.6 446.9 M467.1 454.7L464 447.6 M462.4 456.4L459.4 449.2 M460.7 457L457.8 449.9 M456.1 458.6L453.3 451.4 M454.4 459.2L451.6 452 M449.6 460.7L447 453.5 M447.9 461.3L445.3 454 M443.1 462.7L440.7 455.4 M441.4 463.2L438.9 455.9 M436.6 464.6L434.3 457.3 M434.9 465.1L432.5 457.7 M430.1 466.3L427.9 459 M428.3 466.8L426.1 459.4 M423.5 468L421.5 460.6 M421.7 468.4L419.7 461 M416.9 469.5L415.1 462 M415.2 469.8L413.3 462.4 M410.3 470.9L408.5 463.4 M408.5 471.2L406.8 463.7 M403.6 472.1L402.1 464.6 M401.9 472.4L400.3 465 M396.9 473.3L395.5 465.8 M395.2 473.6L393.8 466.1 M390.2 474.3L389 466.8 M388.5 474.6L387.2 467.1 M383.6 475.2L382.5 467.7 M381.8 475.5L380.7 467.9 M376.8 476.1L375.9 468.5 M375 476.3L374.1 468.7 M370.1 476.8L369.3 469.2 M368.3 476.9L367.5 469.3 M363.4 477.3L362.7 469.8 M361.6 477.5L360.9 469.9 M356.7 477.8L356.1 470.2 M354.9 477.9L354.3 470.3 M349.8 478.2L349.4 470.6 M348 478.2L347.6 470.6 M343.1 478.4L342.8 470.8 M341.3 478.4L341 470.8 M336.3 478.5L336.2 470.9 M334.5 478.5L334.4 470.9 M329.6 478.5L329.7 470.9 M327.8 478.5L327.9 470.9 M322.8 478.4L323.1 470.8 M321 478.4L321.3 470.8 M316.1 478.2L316.4 470.6 M314.3 478.2L314.6 470.6 M309.2 477.9L309.7 470.3 M307.4 477.8L308 470.2 M302.5 477.5L303.2 469.9 M300.7 477.3L301.4 469.8 M295.8 476.9L296.6 469.4 M294 476.8L294.8 469.2 M289.1 476.3L290 468.7 M287.3 476.1L288.2 468.5 M282.3 475.5L283.4 467.9 M280.5 475.3L281.6 467.7 M275.6 474.6L276.9 467.1 M273.9 474.3L275.1 466.8 M268.9 473.6L270.3 466.1 M267.1 473.3L268.5 465.8 M262.2 472.5L263.8 465 M260.5 472.1L262 464.7 M255.6 471.2L257.3 463.8 M253.8 470.9L255.5 463.4 M248.9 469.9L250.8 462.4 M247.1 469.5L249 462 M242.4 468.4L244.4 461 M240.6 468L242.6 460.6 M235.8 466.8L237.9 459.4 M234 466.4L236.2 459 M229.2 465.1L231.6 457.8 M227.5 464.6L229.8 457.3 M222.7 463.2L225.1 456 M220.9 462.7L223.4 455.4 M216.2 461.3L218.8 454 M214.4 460.7L217.1 453.5 M209.7 459.2L212.5 452 M208 458.6L210.8 451.4 M203.4 457L206.3 449.9 M201.7 456.4L204.6 449.3 M197 454.7L200.1 447.6 M195.3 454.1L198.4 447 M190.6 452.2L193.9 445.2 M189 451.6L192.2 444.5 M184.3 449.7L187.8 442.7 M182.7 449L186.1 442 M178.1 447L181.8 440.1 M176.5 446.2L180.1 439.3 M172 444.1L175.8 437.3 M170.3 443.4L174.1 436.5 M165.9 441.2L169.8 434.4 M164.3 440.4L168.2 433.6 M159.8 438.1L164 431.4 M158.3 437.3L162.4 430.5 M153.8 434.9L158.1 428.2 M152.3 434L156.6 427.3 M147.9 431.5L152.4 425 M146.4 430.6L150.9 424 M142.2 428L146.8 421.6 M140.6 427.1L145.3 420.6 M136.4 424.4L141.2 418 M134.9 423.4L139.7 417 M130.7 420.6L135.7 414.4 M129.2 419.6L134.3 413.3 M125.1 416.7L130.3 410.5 M123.7 415.6L128.9 409.5 M119.7 412.6L125.1 406.6 M118.3 411.6L123.7 405.5 M114.4 408.5L119.9 402.6 M113 407.3L118.5 401.4 M109.1 404.1L114.9 398.4 M107.8 403L113.5 397.2 M104 399.6L109.9 394 M102.7 398.4L108.6 392.8 M99 395L105.1 389.5 M97.7 393.7L103.8 388.3 M94.1 390.2L100.4 384.9 M92.9 389L99.1 383.6 M89.4 385.3L95.9 380.2 M88.2 384L94.7 378.9 M84.8 380.3L91.5 375.3 M83.7 378.9L90.3 373.9 M80.4 375.1L87.3 370.3 M79.3 373.7L86.1 368.9 M76.2 369.7L83.2 365.1 M75.1 368.3L82.1 363.7 M72.1 364.2L79.3 359.8 M71.1 362.8L78.3 358.4 M68.2 358.6L75.6 354.4 M67.2 357.1L74.6 352.9 M64.6 352.8L72.1 348.9 M63.6 351.3L71.2 347.4 M61.1 346.9L68.8 343.2 M60.2 345.3L67.9 341.6 M57.8 340.9L65.7 337.5 M57 339.3L64.9 335.9 M54.8 334.7L62.8 331.6 M54.1 333.1L62.1 329.9 M52.1 328.5L60.2 325.6 M51.4 326.8L59.5 323.9 M49.6 322.1L57.8 319.5 M48.9 320.4L57.2 317.8 M47.3 315.7L55.7 313.4 M46.8 314L55.2 311.7 M45.3 309.1L53.8 307.1 M44.9 307.4L53.4 305.4 M43.6 302.4L52.2 300.7 M43.2 300.7L51.8 299 M42.2 295.7L50.9 294.4 M41.9 294L50.6 292.6 M41.1 288.9L49.8 287.9 M40.9 287.1L49.6 286.1 M40.3 282.1L49.1 281.5 M40.1 280.3L48.9 279.7 M39.8 275.3L48.6 274.9 M39.7 273.5L48.5 273.1 M39.6 268.4L48.4 268.4 M39.6 266.6L48.4 266.6 M39.7 261.6L48.5 261.9 M39.8 259.8L48.6 260.1 M40.1 254.7L48.9 255.4 M40.3 252.9L49.1 253.6 M40.9 247.9L49.6 248.9 M41.1 246.1L49.8 247.2 M41.9 241.1L50.6 242.4 M42.2 239.3L50.9 240.7 M43.2 234.4L51.8 236.1 M43.6 232.7L52.2 234.3 M44.8 227.7L53.3 229.7 M45.3 226L53.8 228 M46.7 221.1L55.1 223.4 M47.3 219.4L55.7 221.7 M48.9 214.6L57.2 217.2 M49.5 212.9L57.8 215.5 M51.4 208.3L59.5 211.1 M52 206.6L60.2 209.5 M54.1 202L62.1 205.1 M54.8 200.3L62.8 203.5 M57 195.8L64.9 199.2 M57.8 194.2L65.7 197.6 M60.2 189.7L67.9 193.4 M61 188.2L68.7 191.8 M63.6 183.8L71.1 187.7 M64.5 182.2L72.1 186.1 M67.2 178L74.6 182.1 M68.2 176.5L75.5 180.6 M71 172.3L78.2 176.7 M72.1 170.8L79.3 175.2 M75.1 166.8L82.1 171.4 M76.1 165.3L83.2 169.9 M79.3 161.4L86.1 166.2 M80.4 160L87.2 164.8 M83.6 156.1L90.3 161.1 M84.8 154.8L91.4 159.7 M88.1 151L94.6 156.2 M89.4 149.7L95.8 154.9 M92.8 146.1L99.1 151.4 M94.1 144.8L100.4 150.1 M97.6 141.3L103.7 146.8 M98.9 140.1L105 145.5 M102.6 136.6L108.5 142.3 M103.9 135.4L109.8 141 M107.7 132.1L113.4 137.9 M109.1 130.9L114.8 136.7 M112.9 127.7L118.5 133.6 M114.3 126.6L119.9 132.5 M118.2 123.5L123.6 129.5 M119.7 122.4L125 128.4 M123.6 119.4L128.8 125.6 M125.1 118.4L130.3 124.5 M129.2 115.5L134.2 121.7 M130.7 114.4L135.7 120.7 M134.8 111.7L139.6 118 M136.3 110.7L141.1 117 M140.6 108L145.2 114.4 M142.1 107L146.7 113.5 M146.3 104.5L150.8 111 M147.9 103.5L152.3 110.1 M152.2 101.1L156.5 107.7 M153.8 100.2L158.1 106.8 M158.2 97.8L162.3 104.5 M159.8 96.9L163.9 103.7 M164.2 94.6L168.2 101.4 M165.8 93.8L169.8 100.6 M170.3 91.7L174.1 98.5 M171.9 90.9L175.7 97.8 M176.4 88.8L180 95.7 M178.1 88.1L181.7 95 M182.6 86.1L186.1 93.1 M184.3 85.4L187.7 92.4 M188.9 83.5L192.2 90.5 M190.5 82.8L193.8 89.8 M195.2 81L198.4 88.1 M196.9 80.3L200 87.4 M201.6 78.6L204.6 85.8 M203.3 78L206.2 85.1 M207.9 76.4L210.7 83.6 M209.6 75.8L212.4 83 M214.4 74.3L217 81.5 M216.1 73.7L218.7 81 M220.9 72.3L223.3 79.6 M222.6 71.8L225.1 79.1 M227.4 70.4L229.7 77.7 M229.1 69.9L231.5 77.3 M233.9 68.7L236.1 76 M235.7 68.2L237.9 75.6 M240.5 67L242.5 74.4 M242.3 66.6L244.3 74 M247.1 65.5L248.9 73 M248.8 65.2L250.7 72.6 M253.7 64.1L255.5 71.6 M255.5 63.8L257.2 71.3 M260.4 62.9L261.9 70.4 M262.1 62.6L263.7 70 M267.1 61.7L268.5 69.2 M268.8 61.4L270.2 68.9 M273.8 60.7L275 68.2 M275.5 60.4L276.8 67.9 M280.4 59.8L281.5 67.3 M282.2 59.5L283.3 67.1 M287.2 58.9L288.1 66.5 M289 58.7L289.9 66.3 M293.9 58.2L294.7 65.8 M295.7 58.1L296.5 65.7 M300.6 57.7L301.3 65.2 M302.4 57.5L303.1 65.1 M307.3 57.2L307.9 64.8 M309.1 57.1L309.7 64.7 M314.2 56.8L314.6 64.4 M316 56.8L316.4 64.4 M320.9 56.6L321.2 64.2 M322.7 56.6L323 64.2 M327.7 56.5L327.8 64.1 M329.5 56.5L329.6 64.1 M334.4 56.5L334.3 64.1 M336.2 56.5L336.1 64.1 M341.2 56.6L340.9 64.2 M343 56.6L342.7 64.2 M347.9 56.8L347.6 64.4 M349.7 56.8L349.4 64.4 M354.8 57.1L354.3 64.7 M356.6 57.2L356 64.8 M361.5 57.5L360.8 65.1 M363.3 57.7L362.6 65.2 M368.2 58.1L367.4 65.6 M370 58.2L369.2 65.8 M374.9 58.7L374 66.3 M376.7 58.9L375.8 66.5 M381.7 59.5L380.6 67.1 M383.5 59.7L382.4 67.3 M388.4 60.4L387.1 67.9 M390.1 60.7L388.9 68.2 M395.1 61.4L393.7 68.9 M396.9 61.7L395.5 69.2 M401.8 62.5L400.2 70 M403.5 62.9L402 70.3 M408.4 63.8L406.7 71.2 M410.2 64.1L408.5 71.6 M415.1 65.1L413.2 72.6 M416.9 65.5L415 73 M421.6 66.6L419.6 74 M423.4 67L421.4 74.4 M428.2 68.2L426.1 75.6 M430 68.6L427.8 76 M434.8 69.9L432.4 77.2 M436.5 70.4L434.2 77.7 M441.3 71.8L438.9 79 M443.1 72.3L440.6 79.6 M447.8 73.7L445.2 81 M449.6 74.3L446.9 81.5 M454.3 75.8L451.5 83 M456 76.4L453.2 83.6 M460.6 78L457.7 85.1 M462.3 78.6L459.4 85.7 M467 80.3L463.9 87.4 M468.7 80.9L465.6 88 M473.4 82.8L470.1 89.8 M475 83.4L471.8 90.5 M479.7 85.3L476.2 92.3 M481.3 86L477.9 93 M485.9 88L482.2 94.9 M487.5 88.8L483.9 95.7 M492 90.9L488.2 97.7 M493.7 91.6L489.9 98.5 M498.1 93.8L494.2 100.6 M499.7 94.6L495.8 101.4 M504.2 96.9L500 103.6 M505.7 97.7L501.6 104.5 M510.2 100.1L505.9 106.8 M511.7 101L507.4 107.7 M516.1 103.5L511.6 110 M517.6 104.4L513.1 111 M521.8 107L517.2 113.4 M523.4 107.9L518.7 114.4 M527.6 110.6L522.8 117 M529.1 111.6L524.3 118 M533.3 114.4L528.3 120.6 M534.8 115.4L529.7 121.7 M538.9 118.3L533.7 124.5 M540.3 119.4L535.1 125.5 M544.3 122.4L538.9 128.4 M545.7 123.4L540.3 129.5 M549.6 126.5L544.1 132.4 M551 127.7L545.5 133.6 M554.9 130.9L549.1 136.6 M556.2 132L550.5 137.8 M560 135.4L554.1 141 M561.3 136.6L555.4 142.2 M565 140L558.9 145.5 M566.3 141.3L560.2 146.7 M569.9 144.8L563.6 150.1 M571.1 146L564.9 151.4 M574.6 149.7L568.1 154.8 M575.8 151L569.3 156.1 M579.2 154.7L572.5 159.7 M580.3 156.1L573.7 161.1 M583.6 159.9L576.7 164.7 M584.7 161.3L577.9 166.1 M587.8 165.3L580.8 169.9 M588.9 166.7L581.9 171.3 M591.9 170.8L584.7 175.2 M592.9 172.2L585.7 176.6 M595.8 176.4L588.4 180.6 M596.8 177.9L589.4 182.1 M599.4 182.2L591.9 186.1 M600.4 183.7L592.8 187.6 M602.9 188.1L595.2 191.8 M603.8 189.7L596.1 193.4 M606.2 194.1L598.3 197.5 M607 195.7L599.1 199.1 M609.2 200.3L601.2 203.4 M609.9 201.9L601.9 205.1 M611.9 206.5L603.8 209.4 M612.6 208.2L604.5 211.1 M614.4 212.9L606.2 215.5 M615.1 214.6L606.8 217.2 M616.7 219.3L608.3 221.6 M617.2 221L608.8 223.3 M618.7 225.9L610.2 227.9 M619.1 227.6L610.6 229.6 M620.4 232.6L611.8 234.3 M620.8 234.3L612.2 236 M621.8 239.3L613.1 240.6 M622.1 241L613.4 242.4 M622.9 246.1L614.2 247.1 M623.1 247.9L614.4 248.9 M623.7 252.9L614.9 253.5 M623.9 254.7L615.1 255.3 M624.2 259.7L615.4 260.1 M624.3 261.5L615.5 261.9" stroke="#8c9098" stroke-width="0.7" fill="none"/>
<path d="M627 267.5m-3 0a3 3 0 1 0 6 0a3 3 0 1 0 -6 0 M626.8 274.4m-3 0a3 3 0 1 0 6 0a3 3 0 1 0 -6 0 M626.4 281.4m-3 0a3 3 0 1 0 6 0a3 3 0 1 0 -6 0 M625.6 288.3m-3 0a3 3 0 1 0 6 0a3 3 0 1 0 -6 0 M624.5 295.3m-3 0a3 3 0 1 0 6 0a3 3 0 1 0 -6 0 M623.1 302m-3 0a3 3 0 1 0 6 0a3 3 0 1 0 -6 0 M621.4 308.8m-3 0a3 3 0 1 0 6 0a3 3 0 1 0 -6 0 M619.5 315.5m-3 0a3 3 0 1 0 6 0a3 3 0 1 0 -6 0 M617.2 322.1m-3 0a3 3 0 1 0 6 0a3 3 0 1 0 -6 0 M614.7 328.6m-3 0a3 3 0 1 0 6 0a3 3 0 1 0 -6 0 M611.9 334.9m-3 0a3 3 0 1 0 6 0a3 3 0 1 0 -6 0 M608.9 341.2m-3 0a3 3 0 1 0 6 0a3 3 0 1 0 -6 0 M605.7 347.3m-3 0a3 3 0 1 0 6 0a3 3 0 1 0 -6 0 M602.2 353.4m-3 0a3 3 0 1 0 6 0a3 3 0 1 0 -6 0 M598.5 359.2m-3 0a3 3 0 1 0 6 0a3 3 0 1 0 -6 0 M594.6 364.9m-3 0a3 3 0 1 0 6 0a3 3 0 1 0 -6 0 M590.5 370.5m-3 0a3 3 0 1 0 6 0a3 3 0 1 0 -6 0 M586.2 376m-3 0a3 3 0 1 0 6 0a3 3 0 1 0 -6 0 M581.8 381.2m-3 0a3 3 0 1 0 6 0a3 3 0 1 0 -6 0 M577.2 386.4m-3 0a3 3 0 1 0 6 0a3 3 0 1 0 -6 0 M572.4 391.4m-3 0a3 3 0 1 0 6 0a3 3 0 1 0 -6 0 M567.5 396.2m-3 0a3 3 0 1 0 6 0a3 3 0 1 0 -6 0 M562.5 400.9m-3 0a3 3 0 1 0 6 0a3 3 0 1 0 -6 0 M557.3 405.5m-3 0a3 3 0 1 0 6 0a3 3 0 1 0 -6 0 M552 409.9m-3 0a3 3 0 1 0 6 0a3 3 0 1 0 -6 0 M546.6 414.1m-3 0a3 3 0 1 0 6 0a3 3 0 1 0 -6 0 M541.2 418.2m-3 0a3 3 0 1 0 6 0a3 3 0 1 0 -6 0 M535.6 422.2m-3 0a3 3 0 1 0 6 0a3 3 0 1 0 -6 0 M529.9 426m-3 0a3 3 0 1 0 6 0a3 3 0 1 0 -6 0 M524 429.7m-3 0a3 3 0 1 0 6 0a3 3 0 1 0 -6 0 M518.2 433.2m-3 0a3 3 0 1 0 6 0a3 3 0 1 0 -6 0 M512.3 436.6m-3 0a3 3 0 1 0 6 0a3 3 0 1 0 -6 0 M506.2 439.9m-3 0a3 3 0 1 0 6 0a3 3 0 1 0 -6 0 M500.2 443.1m-3 0a3 3 0 1 0 6 0a3 3 0 1 0 -6 0 M494 446.1m-3 0a3 3 0 1 0 6 0a3 3 0 1 0 -6 0 M487.8 448.9m-3 0a3 3 0 1 0 6 0a3 3 0 1 0 -6 0 M481.6 451.7m-3 0a3 3 0 1 0 6 0a3 3 0 1 0 -6 0 M475.3 454.3m-3 0a3 3 0 1 0 6 0a3 3 0 1 0 -6 0 M468.8 456.8m-3 0a3 3 0 1 0 6 0a3 3 0 1 0 -6 0 M462.4 459.2m-3 0a3 3 0 1 0 6 0a3 3 0 1 0 -6 0 M456 461.4m-3 0a3 3 0 1 0 6 0a3 3 0 1 0 -6 0 M449.6 463.5m-3 0a3 3 0 1 0 6 0a3 3 0 1 0 -6 0 M443 465.5m-3 0a3 3 0 1 0 6 0a3 3 0 1 0 -6 0 M436.4 467.3m-3 0a3 3 0 1 0 6 0a3 3 0 1 0 -6 0 M429.8 469.1m-3 0a3 3 0 1 0 6 0a3 3 0 1 0 -6 0 M423.2 470.7m-3 0a3 3 0 1 0 6 0a3 3 0 1 0 -6 0 M416.6 472.2m-3 0a3 3 0 1 0 6 0a3 3 0 1 0 -6 0 M409.9 473.6m-3 0a3 3 0 1 0 6 0a3 3 0 1 0 -6 0 M403.2 474.8m-3 0a3 3 0 1 0 6 0a3 3 0 1 0 -6 0 M396.5 476m-3 0a3 3 0 1 0 6 0a3 3 0 1 0 -6 0 M389.7 477m-3 0a3 3 0 1 0 6 0a3 3 0 1 0 -6 0 M383 477.9m-3 0a3 3 0 1 0 6 0a3 3 0 1 0 -6 0 M376.2 478.7m-3 0a3 3 0 1 0 6 0a3 3 0 1 0 -6 0 M369.5 479.4m-3 0a3 3 0 1 0 6 0a3 3 0 1 0 -6 0 M362.7 480m-3 0a3 3 0 1 0 6 0a3 3 0 1 0 -6 0 M355.9 480.4m-3 0a3 3 0 1 0 6 0a3 3 0 1 0 -6 0 M349 480.8m-3 0a3 3 0 1 0 6 0a3 3 0 1 0 -6 0 M342.2 481m-3 0a3 3 0 1 0 6 0a3 3 0 1 0 -6 0 M335.4 481.1m-3 0a3 3 0 1 0 6 0a3 3 0 1 0 -6 0 M328.7 481.1m-3 0a3 3 0 1 0 6 0a3 3 0 1 0 -6 0 M321.9 481m-3 0a3 3 0 1 0 6 0a3 3 0 1 0 -6 0 M315.1 480.8m-3 0a3 3 0 1 0 6 0a3 3 0 1 0 -6 0 M308.2 480.5m-3 0a3 3 0 1 0 6 0a3 3 0 1 0 -6 0 M301.4 480m-3 0a3 3 0 1 0 6 0a3 3 0 1 0 -6 0 M294.6 479.4m-3 0a3 3 0 1 0 6 0a3 3 0 1 0 -6 0 M287.9 478.8m-3 0a3 3 0 1 0 6 0a3 3 0 1 0 -6 0 M281.1 477.9m-3 0a3 3 0 1 0 6 0a3 3 0 1 0 -6 0 M274.4 477m-3 0a3 3 0 1 0 6 0a3 3 0 1 0 -6 0 M267.6 476m-3 0a3 3 0 1 0 6 0a3 3 0 1 0 -6 0 M260.9 474.9m-3 0a3 3 0 1 0 6 0a3 3 0 1 0 -6 0 M254.2 473.6m-3 0a3 3 0 1 0 6 0a3 3 0 1 0 -6 0 M247.5 472.2m-3 0a3 3 0 1 0 6 0a3 3 0 1 0 -6 0 M240.9 470.7m-3 0a3 3 0 1 0 6 0a3 3 0 1 0 -6 0 M234.3 469.1m-3 0a3 3 0 1 0 6 0a3 3 0 1 0 -6 0 M227.7 467.4m-3 0a3 3 0 1 0 6 0a3 3 0 1 0 -6 0 M221.1 465.5m-3 0a3 3 0 1 0 6 0a3 3 0 1 0 -6 0 M214.5 463.5m-3 0a3 3 0 1 0 6 0a3 3 0 1 0 -6 0 M208 461.4m-3 0a3 3 0 1 0 6 0a3 3 0 1 0 -6 0 M201.6 459.2m-3 0a3 3 0 1 0 6 0a3 3 0 1 0 -6 0 M195.2 456.8m-3 0a3 3 0 1 0 6 0a3 3 0 1 0 -6 0 M188.8 454.3m-3 0a3 3 0 1 0 6 0a3 3 0 1 0 -6 0 M182.5 451.7m-3 0a3 3 0 1 0 6 0a3 3 0 1 0 -6 0 M176.3 449m-3 0a3 3 0 1 0 6 0a3 3 0 1 0 -6 0 M170 446.1m-3 0a3 3 0 1 0 6 0a3 3 0 1 0 -6 0 M163.9 443.1m-3 0a3 3 0 1 0 6 0a3 3 0 1 0 -6 0 M157.8 440m-3 0a3 3 0 1 0 6 0a3 3 0 1 0 -6 0 M151.8 436.7m-3 0a3 3 0 1 0 6 0a3 3 0 1 0 -6 0 M145.8 433.3m-3 0a3 3 0 1 0 6 0a3 3 0 1 0 -6 0 M140 429.8m-3 0a3 3 0 1 0 6 0a3 3 0 1 0 -6 0 M134.2 426.1m-3 0a3 3 0 1 0 6 0a3 3 0 1 0 -6 0 M128.5 422.2m-3 0a3 3 0 1 0 6 0a3 3 0 1 0 -6 0 M122.9 418.2m-3 0a3 3 0 1 0 6 0a3 3 0 1 0 -6 0 M117.4 414.2m-3 0a3 3 0 1 0 6 0a3 3 0 1 0 -6 0 M112 409.9m-3 0a3 3 0 1 0 6 0a3 3 0 1 0 -6 0 M106.7 405.5m-3 0a3 3 0 1 0 6 0a3 3 0 1 0 -6 0 M101.6 401m-3 0a3 3 0 1 0 6 0a3 3 0 1 0 -6 0 M96.5 396.2m-3 0a3 3 0 1 0 6 0a3 3 0 1 0 -6 0 M91.6 391.4m-3 0a3 3 0 1 0 6 0a3 3 0 1 0 -6 0 M86.9 386.4m-3 0a3 3 0 1 0 6 0a3 3 0 1 0 -6 0 M82.3 381.3m-3 0a3 3 0 1 0 6 0a3 3 0 1 0 -6 0 M77.8 376m-3 0a3 3 0 1 0 6 0a3 3 0 1 0 -6 0 M73.6 370.6m-3 0a3 3 0 1 0 6 0a3 3 0 1 0 -6 0 M69.5 365m-3 0a3 3 0 1 0 6 0a3 3 0 1 0 -6 0 M65.6 359.2m-3 0a3 3 0 1 0 6 0a3 3 0 1 0 -6 0 M61.9 353.4m-3 0a3 3 0 1 0 6 0a3 3 0 1 0 -6 0 M58.4 347.4m-3 0a3 3 0 1 0 6 0a3 3 0 1 0 -6 0 M55.1 341.3m-3 0a3 3 0 1 0 6 0a3 3 0 1 0 -6 0 M52.1 335m-3 0a3 3 0 1 0 6 0a3 3 0 1 0 -6 0 M49.3 328.6m-3 0a3 3 0 1 0 6 0a3 3 0 1 0 -6 0 M46.8 322.2m-3 0a3 3 0 1 0 6 0a3 3 0 1 0 -6 0 M44.6 315.6m-3 0a3 3 0 1 0 6 0a3 3 0 1 0 -6 0 M42.6 308.9m-3 0a3 3 0 1 0 6 0a3 3 0 1 0 -6 0 M40.9 302.1m-3 0a3 3 0 1 0 6 0a3 3 0 1 0 -6 0 M39.5 295.3m-3 0a3 3 0 1 0 6 0a3 3 0 1 0 -6 0 M38.4 288.4m-3 0a3 3 0 1 0 6 0a3 3 0 1 0 -6 0 M37.6 281.5m-3 0a3 3 0 1 0 6 0a3 3 0 1 0 -6 0 M37.2 274.5m-3 0a3 3 0 1 0 6 0a3 3 0 1 0 -6 0 M37 267.5m-3 0a3 3 0 1 0 6 0a3 3 0 1 0 -6 0 M37.2 260.6m-3 0a3 3 0 1 0 6 0a3 3 0 1 0 -6 0 M37.6 253.6m-3 0a3 3 0 1 0 6 0a3 3 0 1 0 -6 0 M38.4 246.7m-3 0a3 3 0 1 0 6 0a3 3 0 1 0 -6 0 M39.5 239.7m-3 0a3 3 0 1 0 6 0a3 3 0 1 0 -6 0 M40.9 233m-3 0a3 3 0 1 0 6 0a3 3 0 1 0 -6 0 M42.6 226.2m-3 0a3 3 0 1 0 6 0a3 3 0 1 0 -6 0 M44.5 219.5m-3 0a3 3 0 1 0 6 0a3 3 0 1 0 -6 0 M46.8 212.9m-3 0a3 3 0 1 0 6 0a3 3 0 1 0 -6 0 M49.3 206.4m-3 0a3 3 0 1 0 6 0a3 3 0 1 0 -6 0 M52.1 200.1m-3 0a3 3 0 1 0 6 0a3 3 0 1 0 -6 0 M55.1 193.8m-3 0a3 3 0 1 0 6 0a3 3 0 1 0 -6 0 M58.3 187.7m-3 0a3 3 0 1 0 6 0a3 3 0 1 0 -6 0 M61.8 181.6m-3 0a3 3 0 1 0 6 0a3 3 0 1 0 -6 0 M65.5 175.8m-3 0a3 3 0 1 0 6 0a3 3 0 1 0 -6 0 M69.4 170.1m-3 0a3 3 0 1 0 6 0a3 3 0 1 0 -6 0 M73.5 164.5m-3 0a3 3 0 1 0 6 0a3 3 0 1 0 -6 0 M77.8 159m-3 0a3 3 0 1 0 6 0a3 3 0 1 0 -6 0 M82.2 153.8m-3 0a3 3 0 1 0 6 0a3 3 0 1 0 -6 0 M86.8 148.6m-3 0a3 3 0 1 0 6 0a3 3 0 1 0 -6 0 M91.6 143.6m-3 0a3 3 0 1 0 6 0a3 3 0 1 0 -6 0 M96.5 138.8m-3 0a3 3 0 1 0 6 0a3 3 0 1 0 -6 0 M101.5 134.1m-3 0a3 3 0 1 0 6 0a3 3 0 1 0 -6 0 M106.7 129.5m-3 0a3 3 0 1 0 6 0a3 3 0 1 0 -6 0 M112 125.1m-3 0a3 3 0 1 0 6 0a3 3 0 1 0 -6 0 M117.4 120.9m-3 0a3 3 0 1 0 6 0a3 3 0 1 0 -6 0 M122.8 116.8m-3 0a3 3 0 1 0 6 0a3 3 0 1 0 -6 0 M128.4 112.8m-3 0a3 3 0 1 0 6 0a3 3 0 1 0 -6 0 M134.1 109m-3 0a3 3 0 1 0 6 0a3 3 0 1 0 -6 0 M140 105.3m-3 0a3 3 0 1 0 6 0a3 3 0 1 0 -6 0 M145.8 101.8m-3 0a3 3 0 1 0 6 0a3 3 0 1 0 -6 0 M151.7 98.4m-3 0a3 3 0 1 0 6 0a3 3 0 1 0 -6 0 M157.8 95.1m-3 0a3 3 0 1 0 6 0a3 3 0 1 0 -6 0 M163.8 91.9m-3 0a3 3 0 1 0 6 0a3 3 0 1 0 -6 0 M170 88.9m-3 0a3 3 0 1 0 6 0a3 3 0 1 0 -6 0 M176.2 86.1m-3 0a3 3 0 1 0 6 0a3 3 0 1 0 -6 0 M182.4 83.3m-3 0a3 3 0 1 0 6 0a3 3 0 1 0 -6 0 M188.7 80.7m-3 0a3 3 0 1 0 6 0a3 3 0 1 0 -6 0 M195.2 78.2m-3 0a3 3 0 1 0 6 0a3 3 0 1 0 -6 0 M201.6 75.8m-3 0a3 3 0 1 0 6 0a3 3 0 1 0 -6 0 M208 73.6m-3 0a3 3 0 1 0 6 0a3 3 0 1 0 -6 0 M214.4 71.5m-3 0a3 3 0 1 0 6 0a3 3 0 1 0 -6 0 M221 69.5m-3 0a3 3 0 1 0 6 0a3 3 0 1 0 -6 0 M227.6 67.7m-3 0a3 3 0 1 0 6 0a3 3 0 1 0 -6 0 M234.2 65.9m-3 0a3 3 0 1 0 6 0a3 3 0 1 0 -6 0 M240.8 64.3m-3 0a3 3 0 1 0 6 0a3 3 0 1 0 -6 0 M247.4 62.8m-3 0a3 3 0 1 0 6 0a3 3 0 1 0 -6 0 M254.1 61.4m-3 0a3 3 0 1 0 6 0a3 3 0 1 0 -6 0 M260.8 60.2m-3 0a3 3 0 1 0 6 0a3 3 0 1 0 -6 0 M267.5 59m-3 0a3 3 0 1 0 6 0a3 3 0 1 0 -6 0 M274.3 58m-3 0a3 3 0 1 0 6 0a3 3 0 1 0 -6 0 M281 57.1m-3 0a3 3 0 1 0 6 0a3 3 0 1 0 -6 0 M287.8 56.3m-3 0a3 3 0 1 0 6 0a3 3 0 1 0 -6 0 M294.5 55.6m-3 0a3 3 0 1 0 6 0a3 3 0 1 0 -6 0 M301.3 55m-3 0a3 3 0 1 0 6 0a3 3 0 1 0 -6 0 M308.1 54.6m-3 0a3 3 0 1 0 6 0a3 3 0 1 0 -6 0 M315 54.2m-3 0a3 3 0 1 0 6 0a3 3 0 1 0 -6 0 M321.8 54m-3 0a3 3 0 1 0 6 0a3 3 0 1 0 -6 0 M328.6 53.9m-3 0a3 3 0 1 0 6 0a3 3 0 1 0 -6 0 M335.3 53.9m-3 0a3 3 0 1 0 6 0a3 3 0 1 0 -6 0 M342.1 54m-3 0a3 3 0 1 0 6 0a3 3 0 1 0 -6 0 M348.9 54.2m-3 0a3 3 0 1 0 6 0a3 3 0 1 0 -6 0 M355.8 54.5m-3 0a3 3 0 1 0 6 0a3 3 0 1 0 -6 0 M362.6 55m-3 0a3 3 0 1 0 6 0a3 3 0 1 0 -6 0 M369.4 55.6m-3 0a3 3 0 1 0 6 0a3 3 0 1 0 -6 0 M376.1 56.2m-3 0a3 3 0 1 0 6 0a3 3 0 1 0 -6 0 M382.9 57.1m-3 0a3 3 0 1 0 6 0a3 3 0 1 0 -6 0 M389.6 58m-3 0a3 3 0 1 0 6 0a3 3 0 1 0 -6 0 M396.4 59m-3 0a3 3 0 1 0 6 0a3 3 0 1 0 -6 0 M403.1 60.1m-3 0a3 3 0 1 0 6 0a3 3 0 1 0 -6 0 M409.8 61.4m-3 0a3 3 0 1 0 6 0a3 3 0 1 0 -6 0 M416.5 62.8m-3 0a3 3 0 1 0 6 0a3 3 0 1 0 -6 0 M423.1 64.3m-3 0a3 3 0 1 0 6 0a3 3 0 1 0 -6 0 M429.7 65.9m-3 0a3 3 0 1 0 6 0a3 3 0 1 0 -6 0 M436.3 67.6m-3 0a3 3 0 1 0 6 0a3 3 0 1 0 -6 0 M442.9 69.5m-3 0a3 3 0 1 0 6 0a3 3 0 1 0 -6 0 M449.5 71.5m-3 0a3 3 0 1 0 6 0a3 3 0 1 0 -6 0 M456 73.6m-3 0a3 3 0 1 0 6 0a3 3 0 1 0 -6 0 M462.4 75.8m-3 0a3 3 0 1 0 6 0a3 3 0 1 0 -6 0 M468.8 78.2m-3 0a3 3 0 1 0 6 0a3 3 0 1 0 -6 0 M475.2 80.7m-3 0a3 3 0 1 0 6 0a3 3 0 1 0 -6 0 M481.5 83.3m-3 0a3 3 0 1 0 6 0a3 3 0 1 0 -6 0 M487.7 86m-3 0a3 3 0 1 0 6 0a3 3 0 1 0 -6 0 M494 88.9m-3 0a3 3 0 1 0 6 0a3 3 0 1 0 -6 0 M500.1 91.9m-3 0a3 3 0 1 0 6 0a3 3 0 1 0 -6 0 M506.2 95m-3 0a3 3 0 1 0 6 0a3 3 0 1 0 -6 0 M512.2 98.3m-3 0a3 3 0 1 0 6 0a3 3 0 1 0 -6 0 M518.2 101.7m-3 0a3 3 0 1 0 6 0a3 3 0 1 0 -6 0 M524 105.2m-3 0a3 3 0 1 0 6 0a3 3 0 1 0 -6 0 M529.8 108.9m-3 0a3 3 0 1 0 6 0a3 3 0 1 0 -6 0 M535.5 112.8m-3 0a3 3 0 1 0 6 0a3 3 0 1 0 -6 0 M541.1 116.8m-3 0a3 3 0 1 0 6 0a3 3 0 1 0 -6 0 M546.6 120.8m-3 0a3 3 0 1 0 6 0a3 3 0 1 0 -6 0 M552 125.1m-3 0a3 3 0 1 0 6 0a3 3 0 1 0 -6 0 M557.3 129.5m-3 0a3 3 0 1 0 6 0a3 3 0 1 0 -6 0 M562.4 134m-3 0a3 3 0 1 0 6 0a3 3 0 1 0 -6 0 M567.5 138.8m-3 0a3 3 0 1 0 6 0a3 3 0 1 0 -6 0 M572.4 143.6m-3 0a3 3 0 1 0 6 0a3 3 0 1 0 -6 0 M577.1 148.6m-3 0a3 3 0 1 0 6 0a3 3 0 1 0 -6 0 M581.7 153.7m-3 0a3 3 0 1 0 6 0a3 3 0 1 0 -6 0 M586.2 159m-3 0a3 3 0 1 0 6 0a3 3 0 1 0 -6 0 M590.4 164.4m-3 0a3 3 0 1 0 6 0a3 3 0 1 0 -6 0 M594.5 170m-3 0a3 3 0 1 0 6 0a3 3 0 1 0 -6 0 M598.4 175.8m-3 0a3 3 0 1 0 6 0a3 3 0 1 0 -6 0 M602.1 181.6m-3 0a3 3 0 1 0 6 0a3 3 0 1 0 -6 0 M605.6 187.6m-3 0a3 3 0 1 0 6 0a3 3 0 1 0 -6 0 M608.9 193.7m-3 0a3 3 0 1 0 6 0a3 3 0 1 0 -6 0 M611.9 200m-3 0a3 3 0 1 0 6 0a3 3 0 1 0 -6 0 M614.7 206.4m-3 0a3 3 0 1 0 6 0a3 3 0 1 0 -6 0 M617.2 212.8m-3 0a3 3 0 1 0 6 0a3 3 0 1 0 -6 0 M619.4 219.4m-3 0a3 3 0 1 0 6 0a3 3 0 1 0 -6 0 M621.4 226.1m-3 0a3 3 0 1 0 6 0a3 3 0 1 0 -6 0 M623.1 232.9m-3 0a3 3 0 1 0 6 0a3 3 0 1 0 -6 0 M624.5 239.7m-3 0a3 3 0 1 0 6 0a3 3 0 1 0 -6 0 M625.6 246.6m-3 0a3 3 0 1 0 6 0a3 3 0 1 0 -6 0 M626.4 253.5m-3 0a3 3 0 1 0 6 0a3 3 0 1 0 -6 0 M626.8 260.5m-3 0a3 3 0 1 0 6 0a3 3 0 1 0 -6 0 M613 267.5m-3 0a3 3 0 1 0 6 0a3 3 0 1 0 -6 0 M612.9 273.9m-3 0a3 3 0 1 0 6 0a3 3 0 1 0 -6 0 M612.4 280.3m-3 0a3 3 0 1 0 6 0a3 3 0 1 0 -6 0 M611.7 286.6m-3 0a3 3 0 1 0 6 0a3 3 0 1 0 -6 0 M610.7 293m-3 0a3 3 0 1 0 6 0a3 3 0 1 0 -6 0 M609.5 299.2m-3 0a3 3 0 1 0 6 0a3 3 0 1 0 -6 0 M607.9 305.5m-3 0a3 3 0 1 0 6 0a3 3 0 1 0 -6 0 M606.1 311.7m-3 0a3 3 0 1 0 6 0a3 3 0 1 0 -6 0 M604.1 317.7m-3 0a3 3 0 1 0 6 0a3 3 0 1 0 -6 0 M601.8 323.7m-3 0a3 3 0 1 0 6 0a3 3 0 1 0 -6 0 M599.2 329.6m-3 0a3 3 0 1 0 6 0a3 3 0 1 0 -6 0 M596.4 335.4m-3 0a3 3 0 1 0 6 0a3 3 0 1 0 -6 0 M593.4 341.1m-3 0a3 3 0 1 0 6 0a3 3 0 1 0 -6 0 M590.2 346.7m-3 0a3 3 0 1 0 6 0a3 3 0 1 0 -6 0 M586.8 352.2m-3 0a3 3 0 1 0 6 0a3 3 0 1 0 -6 0 M583.1 357.6m-3 0a3 3 0 1 0 6 0a3 3 0 1 0 -6 0 M579.3 362.8m-3 0a3 3 0 1 0 6 0a3 3 0 1 0 -6 0 M575.3 367.9m-3 0a3 3 0 1 0 6 0a3 3 0 1 0 -6 0 M571.2 372.9m-3 0a3 3 0 1 0 6 0a3 3 0 1 0 -6 0 M566.9 377.7m-3 0a3 3 0 1 0 6 0a3 3 0 1 0 -6 0 M562.4 382.4m-3 0a3 3 0 1 0 6 0a3 3 0 1 0 -6 0 M557.8 387m-3 0a3 3 0 1 0 6 0a3 3 0 1 0 -6 0 M553.1 391.4m-3 0a3 3 0 1 0 6 0a3 3 0 1 0 -6 0 M548.2 395.8m-3 0a3 3 0 1 0 6 0a3 3 0 1 0 -6 0 M543.2 399.9m-3 0a3 3 0 1 0 6 0a3 3 0 1 0 -6 0 M538.1 404m-3 0a3 3 0 1 0 6 0a3 3 0 1 0 -6 0 M532.9 407.9m-3 0a3 3 0 1 0 6 0a3 3 0 1 0 -6 0 M527.6 411.7m-3 0a3 3 0 1 0 6 0a3 3 0 1 0 -6 0 M522.2 415.3m-3 0a3 3 0 1 0 6 0a3 3 0 1 0 -6 0 M516.6 418.9m-3 0a3 3 0 1 0 6 0a3 3 0 1 0 -6 0 M511.1 422.2m-3 0a3 3 0 1 0 6 0a3 3 0 1 0 -6 0 M505.5 425.5m-3 0a3 3 0 1 0 6 0a3 3 0 1 0 -6 0 M499.7 428.6m-3 0a3 3 0 1 0 6 0a3 3 0 1 0 -6 0 M493.9 431.6m-3 0a3 3 0 1 0 6 0a3 3 0 1 0 -6 0 M488 434.5m-3 0a3 3 0 1 0 6 0a3 3 0 1 0 -6 0 M482.1 437.3m-3 0a3 3 0 1 0 6 0a3 3 0 1 0 -6 0 M476.1 439.9m-3 0a3 3 0 1 0 6 0a3 3 0 1 0 -6 0 M470 442.4m-3 0a3 3 0 1 0 6 0a3 3 0 1 0 -6 0 M463.9 444.8m-3 0a3 3 0 1 0 6 0a3 3 0 1 0 -6 0 M457.7 447.1m-3 0a3 3 0 1 0 6 0a3 3 0 1 0 -6 0 M451.6 449.2m-3 0a3 3 0 1 0 6 0a3 3 0 1 0 -6 0 M445.4 451.3m-3 0a3 3 0 1 0 6 0a3 3 0 1 0 -6 0 M439.1 453.2m-3 0a3 3 0 1 0 6 0a3 3 0 1 0 -6 0 M432.7 455m-3 0a3 3 0 1 0 6 0a3 3 0 1 0 -6 0 M426.4 456.7m-3 0a3 3 0 1 0 6 0a3 3 0 1 0 -6 0 M420 458.2m-3 0a3 3 0 1 0 6 0a3 3 0 1 0 -6 0 M413.6 459.7m-3 0a3 3 0 1 0 6 0a3 3 0 1 0 -6 0 M407.2 461m-3 0a3 3 0 1 0 6 0a3 3 0 1 0 -6 0 M400.7 462.2m-3 0a3 3 0 1 0 6 0a3 3 0 1 0 -6 0 M394.2 463.4m-3 0a3 3 0 1 0 6 0a3 3 0 1 0 -6 0 M387.7 464.4m-3 0a3 3 0 1 0 6 0a3 3 0 1 0 -6 0 M381.3 465.2m-3 0a3 3 0 1 0 6 0a3 3 0 1 0 -6 0 M374.7 466m-3 0a3 3 0 1 0 6 0a3 3 0 1 0 -6 0 M368.2 466.7m-3 0a3 3 0 1 0 6 0a3 3 0 1 0 -6 0 M361.6 467.2m-3 0a3 3 0 1 0 6 0a3 3 0 1 0 -6 0 M355.1 467.7m-3 0a3 3 0 1 0 6 0a3 3 0 1 0 -6 0 M348.4 468m-3 0a3 3 0 1 0 6 0a3 3 0 1 0 -6 0 M341.9 468.2m-3 0a3 3 0 1 0 6 0a3 3 0 1 0 -6 0 M335.3 468.3m-3 0a3 3 0 1 0 6 0a3 3 0 1 0 -6 0 M328.8 468.3m-3 0a3 3 0 1 0 6 0a3 3 0 1 0 -6 0 M322.2 468.2m-3 0a3 3 0 1 0 6 0a3 3 0 1 0 -6 0 M315.7 468m-3 0a3 3 0 1 0 6 0a3 3 0 1 0 -6 0 M309 467.7m-3 0a3 3 0 1 0 6 0a3 3 0 1 0 -6 0 M302.5 467.2m-3 0a3 3 0 1 0 6 0a3 3 0 1 0 -6 0 M295.9 466.7m-3 0a3 3 0 1 0 6 0a3 3 0 1 0 -6 0 M289.4 466m-3 0a3 3 0 1 0 6 0a3 3 0 1 0 -6 0 M282.8 465.2m-3 0a3 3 0 1 0 6 0a3 3 0 1 0 -6 0 M276.4 464.4m-3 0a3 3 0 1 0 6 0a3 3 0 1 0 -6 0 M269.9 463.4m-3 0a3 3 0 1 0 6 0a3 3 0 1 0 -6 0 M263.4 462.3m-3 0a3 3 0 1 0 6 0a3 3 0 1 0 -6 0 M256.9 461m-3 0a3 3 0 1 0 6 0a3 3 0 1 0 -6 0 M250.4 459.7m-3 0a3 3 0 1 0 6 0a3 3 0 1 0 -6 0 M244.1 458.3m-3 0a3 3 0 1 0 6 0a3 3 0 1 0 -6 0 M237.7 456.7m-3 0a3 3 0 1 0 6 0a3 3 0 1 0 -6 0 M231.4 455m-3 0a3 3 0 1 0 6 0a3 3 0 1 0 -6 0 M225 453.2m-3 0a3 3 0 1 0 6 0a3 3 0 1 0 -6 0 M218.7 451.3m-3 0a3 3 0 1 0 6 0a3 3 0 1 0 -6 0 M212.5 449.3m-3 0a3 3 0 1 0 6 0a3 3 0 1 0 -6 0 M206.4 447.1m-3 0a3 3 0 1 0 6 0a3 3 0 1 0 -6 0 M200.2 444.9m-3 0a3 3 0 1 0 6 0a3 3 0 1 0 -6 0 M194 442.5m-3 0a3 3 0 1 0 6 0a3 3 0 1 0 -6 0 M188 439.9m-3 0a3 3 0 1 0 6 0a3 3 0 1 0 -6 0 M182 437.3m-3 0a3 3 0 1 0 6 0a3 3 0 1 0 -6 0 M176.1 434.5m-3 0a3 3 0 1 0 6 0a3 3 0 1 0 -6 0 M170.2 431.7m-3 0a3 3 0 1 0 6 0a3 3 0 1 0 -6 0 M164.4 428.7m-3 0a3 3 0 1 0 6 0a3 3 0 1 0 -6 0 M158.6 425.5m-3 0a3 3 0 1 0 6 0a3 3 0 1 0 -6 0 M153 422.3m-3 0a3 3 0 1 0 6 0a3 3 0 1 0 -6 0 M147.4 418.9m-3 0a3 3 0 1 0 6 0a3 3 0 1 0 -6 0 M141.9 415.3m-3 0a3 3 0 1 0 6 0a3 3 0 1 0 -6 0 M136.5 411.7m-3 0a3 3 0 1 0 6 0a3 3 0 1 0 -6 0 M131.1 407.9m-3 0a3 3 0 1 0 6 0a3 3 0 1 0 -6 0 M126 404m-3 0a3 3 0 1 0 6 0a3 3 0 1 0 -6 0 M120.9 400m-3 0a3 3 0 1 0 6 0a3 3 0 1 0 -6 0 M115.9 395.8m-3 0a3 3 0 1 0 6 0a3 3 0 1 0 -6 0 M111 391.5m-3 0a3 3 0 1 0 6 0a3 3 0 1 0 -6 0 M106.2 387m-3 0a3 3 0 1 0 6 0a3 3 0 1 0 -6 0 M101.6 382.5m-3 0a3 3 0 1 0 6 0a3 3 0 1 0 -6 0 M97.2 377.8m-3 0a3 3 0 1 0 6 0a3 3 0 1 0 -6 0 M92.9 372.9m-3 0a3 3 0 1 0 6 0a3 3 0 1 0 -6 0 M88.7 368m-3 0a3 3 0 1 0 6 0a3 3 0 1 0 -6 0 M84.7 362.9m-3 0a3 3 0 1 0 6 0a3 3 0 1 0 -6 0 M80.9 357.6m-3 0a3 3 0 1 0 6 0a3 3 0 1 0 -6 0 M77.3 352.2m-3 0a3 3 0 1 0 6 0a3 3 0 1 0 -6 0 M73.9 346.8m-3 0a3 3 0 1 0 6 0a3 3 0 1 0 -6 0 M70.6 341.2m-3 0a3 3 0 1 0 6 0a3 3 0 1 0 -6 0 M67.6 335.5m-3 0a3 3 0 1 0 6 0a3 3 0 1 0 -6 0 M64.8 329.7m-3 0a3 3 0 1 0 6 0a3 3 0 1 0 -6 0 M62.3 323.8m-3 0a3 3 0 1 0 6 0a3 3 0 1 0 -6 0 M60 317.8m-3 0a3 3 0 1 0 6 0a3 3 0 1 0 -6 0 M57.9 311.7m-3 0a3 3 0 1 0 6 0a3 3 0 1 0 -6 0 M56.1 305.6m-3 0a3 3 0 1 0 6 0a3 3 0 1 0 -6 0 M54.5 299.3m-3 0a3 3 0 1 0 6 0a3 3 0 1 0 -6 0 M53.3 293m-3 0a3 3 0 1 0 6 0a3 3 0 1 0 -6 0 M52.3 286.7m-3 0a3 3 0 1 0 6 0a3 3 0 1 0 -6 0 M51.6 280.3m-3 0a3 3 0 1 0 6 0a3 3 0 1 0 -6 0 M51.1 273.9m-3 0a3 3 0 1 0 6 0a3 3 0 1 0 -6 0 M51 267.5m-3 0a3 3 0 1 0 6 0a3 3 0 1 0 -6 0 M51.1 261.1m-3 0a3 3 0 1 0 6 0a3 3 0 1 0 -6 0 M51.6 254.7m-3 0a3 3 0 1 0 6 0a3 3 0 1 0 -6 0 M52.3 248.4m-3 0a3 3 0 1 0 6 0a3 3 0 1 0 -6 0 M53.3 242m-3 0a3 3 0 1 0 6 0a3 3 0 1 0 -6 0 M54.5 235.8m-3 0a3 3 0 1 0 6 0a3 3 0 1 0 -6 0 M56.1 229.5m-3 0a3 3 0 1 0 6 0a3 3 0 1 0 -6 0 M57.9 223.3m-3 0a3 3 0 1 0 6 0a3 3 0 1 0 -6 0 M59.9 217.3m-3 0a3 3 0 1 0 6 0a3 3 0 1 0 -6 0 M62.2 211.3m-3 0a3 3 0 1 0 6 0a3 3 0 1 0 -6 0 M64.8 205.4m-3 0a3 3 0 1 0 6 0a3 3 0 1 0 -6 0 M67.6 199.6m-3 0a3 3 0 1 0 6 0a3 3 0 1 0 -6 0 M70.6 193.9m-3 0a3 3 0 1 0 6 0a3 3 0 1 0 -6 0 M73.8 188.3m-3 0a3 3 0 1 0 6 0a3 3 0 1 0 -6 0 M77.2 182.8m-3 0a3 3 0 1 0 6 0a3 3 0 1 0 -6 0 M80.9 177.4m-3 0a3 3 0 1 0 6 0a3 3 0 1 0 -6 0 M84.7 172.2m-3 0a3 3 0 1 0 6 0a3 3 0 1 0 -6 0 M88.7 167.1m-3 0a3 3 0 1 0 6 0a3 3 0 1 0 -6 0 M92.8 162.1m-3 0a3 3 0 1 0 6 0a3 3 0 1 0 -6 0 M97.1 157.3m-3 0a3 3 0 1 0 6 0a3 3 0 1 0 -6 0 M101.6 152.6m-3 0a3 3 0 1 0 6 0a3 3 0 1 0 -6 0 M106.2 148m-3 0a3 3 0 1 0 6 0a3 3 0 1 0 -6 0 M110.9 143.6m-3 0a3 3 0 1 0 6 0a3 3 0 1 0 -6 0 M115.8 139.2m-3 0a3 3 0 1 0 6 0a3 3 0 1 0 -6 0 M120.8 135.1m-3 0a3 3 0 1 0 6 0a3 3 0 1 0 -6 0 M125.9 131m-3 0a3 3 0 1 0 6 0a3 3 0 1 0 -6 0 M131.1 127.1m-3 0a3 3 0 1 0 6 0a3 3 0 1 0 -6 0 M136.4 123.3m-3 0a3 3 0 1 0 6 0a3 3 0 1 0 -6 0 M141.8 119.7m-3 0a3 3 0 1 0 6 0a3 3 0 1 0 -6 0 M147.4 116.1m-3 0a3 3 0 1 0 6 0a3 3 0 1 0 -6 0 M152.9 112.8m-3 0a3 3 0 1 0 6 0a3 3 0 1 0 -6 0 M158.5 109.5m-3 0a3 3 0 1 0 6 0a3 3 0 1 0 -6 0 M164.3 106.4m-3 0a3 3 0 1 0 6 0a3 3 0 1 0 -6 0 M170.1 103.4m-3 0a3 3 0 1 0 6 0a3 3 0 1 0 -6 0 M176 100.5m-3 0a3 3 0 1 0 6 0a3 3 0 1 0 -6 0 M181.9 97.7m-3 0a3 3 0 1 0 6 0a3 3 0 1 0 -6 0 M187.9 95.1m-3 0a3 3 0 1 0 6 0a3 3 0 1 0 -6 0 M194 92.6m-3 0a3 3 0 1 0 6 0a3 3 0 1 0 -6 0 M200.1 90.2m-3 0a3 3 0 1 0 6 0a3 3 0 1 0 -6 0 M206.3 87.9m-3 0a3 3 0 1 0 6 0a3 3 0 1 0 -6 0 M212.4 85.8m-3 0a3 3 0 1 0 6 0a3 3 0 1 0 -6 0 M218.6 83.7m-3 0a3 3 0 1 0 6 0a3 3 0 1 0 -6 0 M224.9 81.8m-3 0a3 3 0 1 0 6 0a3 3 0 1 0 -6 0 M231.3 80m-3 0a3 3 0 1 0 6 0a3 3 0 1 0 -6 0 M237.6 78.3m-3 0a3 3 0 1 0 6 0a3 3 0 1 0 -6 0 M244 76.8m-3 0a3 3 0 1 0 6 0a3 3 0 1 0 -6 0 M250.4 75.3m-3 0a3 3 0 1 0 6 0a3 3 0 1 0 -6 0 M256.8 74m-3 0a3 3 0 1 0 6 0a3 3 0 1 0 -6 0 M263.3 72.8m-3 0a3 3 0 1 0 6 0a3 3 0 1 0 -6 0 M269.8 71.6m-3 0a3 3 0 1 0 6 0a3 3 0 1 0 -6 0 M276.3 70.6m-3 0a3 3 0 1 0 6 0a3 3 0 1 0 -6 0 M282.7 69.8m-3 0a3 3 0 1 0 6 0a3 3 0 1 0 -6 0 M289.3 69m-3 0a3 3 0 1 0 6 0a3 3 0 1 0 -6 0 M295.8 68.3m-3 0a3 3 0 1 0 6 0a3 3 0 1 0 -6 0 M302.4 67.8m-3 0a3 3 0 1 0 6 0a3 3 0 1 0 -6 0 M308.9 67.3m-3 0a3 3 0 1 0 6 0a3 3 0 1 0 -6 0 M315.6 67m-3 0a3 3 0 1 0 6 0a3 3 0 1 0 -6 0 M322.1 66.8m-3 0a3 3 0 1 0 6 0a3 3 0 1 0 -6 0 M328.7 66.7m-3 0a3 3 0 1 0 6 0a3 3 0 1 0 -6 0 M335.2 66.7m-3 0a3 3 0 1 0 6 0a3 3 0 1 0 -6 0 M341.8 66.8m-3 0a3 3 0 1 0 6 0a3 3 0 1 0 -6 0 M348.3 67m-3 0a3 3 0 1 0 6 0a3 3 0 1 0 -6 0 M355 67.3m-3 0a3 3 0 1 0 6 0a3 3 0 1 0 -6 0 M361.5 67.8m-3 0a3 3 0 1 0 6 0a3 3 0 1 0 -6 0 M368.1 68.3m-3 0a3 3 0 1 0 6 0a3 3 0 1 0 -6 0 M374.6 69m-3 0a3 3 0 1 0 6 0a3 3 0 1 0 -6 0 M381.2 69.8m-3 0a3 3 0 1 0 6 0a3 3 0 1 0 -6 0 M387.6 70.6m-3 0a3 3 0 1 0 6 0a3 3 0 1 0 -6 0 M394.1 71.6m-3 0a3 3 0 1 0 6 0a3 3 0 1 0 -6 0 M400.6 72.7m-3 0a3 3 0 1 0 6 0a3 3 0 1 0 -6 0 M407.1 74m-3 0a3 3 0 1 0 6 0a3 3 0 1 0 -6 0 M413.6 75.3m-3 0a3 3 0 1 0 6 0a3 3 0 1 0 -6 0 M419.9 76.7m-3 0a3 3 0 1 0 6 0a3 3 0 1 0 -6 0 M426.3 78.3m-3 0a3 3 0 1 0 6 0a3 3 0 1 0 -6 0 M432.6 80m-3 0a3 3 0 1 0 6 0a3 3 0 1 0 -6 0 M439 81.8m-3 0a3 3 0 1 0 6 0a3 3 0 1 0 -6 0 M445.3 83.7m-3 0a3 3 0 1 0 6 0a3 3 0 1 0 -6 0 M451.5 85.7m-3 0a3 3 0 1 0 6 0a3 3 0 1 0 -6 0 M457.6 87.9m-3 0a3 3 0 1 0 6 0a3 3 0 1 0 -6 0 M463.8 90.1m-3 0a3 3 0 1 0 6 0a3 3 0 1 0 -6 0 M470 92.5m-3 0a3 3 0 1 0 6 0a3 3 0 1 0 -6 0 M476 95.1m-3 0a3 3 0 1 0 6 0a3 3 0 1 0 -6 0 M482 97.7m-3 0a3 3 0 1 0 6 0a3 3 0 1 0 -6 0 M487.9 100.5m-3 0a3 3 0 1 0 6 0a3 3 0 1 0 -6 0 M493.8 103.3m-3 0a3 3 0 1 0 6 0a3 3 0 1 0 -6 0 M499.6 106.3m-3 0a3 3 0 1 0 6 0a3 3 0 1 0 -6 0 M505.4 109.5m-3 0a3 3 0 1 0 6 0a3 3 0 1 0 -6 0 M511 112.7m-3 0a3 3 0 1 0 6 0a3 3 0 1 0 -6 0 M516.6 116.1m-3 0a3 3 0 1 0 6 0a3 3 0 1 0 -6 0 M522.1 119.7m-3 0a3 3 0 1 0 6 0a3 3 0 1 0 -6 0 M527.5 123.3m-3 0a3 3 0 1 0 6 0a3 3 0 1 0 -6 0 M532.9 127.1m-3 0a3 3 0 1 0 6 0a3 3 0 1 0 -6 0 M538 131m-3 0a3 3 0 1 0 6 0a3 3 0 1 0 -6 0 M543.1 135m-3 0a3 3 0 1 0 6 0a3 3 0 1 0 -6 0 M548.1 139.2m-3 0a3 3 0 1 0 6 0a3 3 0 1 0 -6 0 M553 143.5m-3 0a3 3 0 1 0 6 0a3 3 0 1 0 -6 0 M557.8 148m-3 0a3 3 0 1 0 6 0a3 3 0 1 0 -6 0 M562.4 152.5m-3 0a3 3 0 1 0 6 0a3 3 0 1 0 -6 0 M566.8 157.2m-3 0a3 3 0 1 0 6 0a3 3 0 1 0 -6 0 M571.1 162.1m-3 0a3 3 0 1 0 6 0a3 3 0 1 0 -6 0 M575.3 167m-3 0a3 3 0 1 0 6 0a3 3 0 1 0 -6 0 M579.3 172.1m-3 0a3 3 0 1 0 6 0a3 3 0 1 0 -6 0 M583.1 177.4m-3 0a3 3 0 1 0 6 0a3 3 0 1 0 -6 0 M586.7 182.8m-3 0a3 3 0 1 0 6 0a3 3 0 1 0 -6 0 M590.1 188.2m-3 0a3 3 0 1 0 6 0a3 3 0 1 0 -6 0 M593.4 193.8m-3 0a3 3 0 1 0 6 0a3 3 0 1 0 -6 0 M596.4 199.5m-3 0a3 3 0 1 0 6 0a3 3 0 1 0 -6 0 M599.2 205.3m-3 0a3 3 0 1 0 6 0a3 3 0 1 0 -6 0 M601.7 211.2m-3 0a3 3 0 1 0 6 0a3 3 0 1 0 -6 0 M604 217.2m-3 0a3 3 0 1 0 6 0a3 3 0 1 0 -6 0 M606.1 223.3m-3 0a3 3 0 1 0 6 0a3 3 0 1 0 -6 0 M607.9 229.4m-3 0a3 3 0 1 0 6 0a3 3 0 1 0 -6 0 M609.5 235.7m-3 0a3 3 0 1 0 6 0a3 3 0 1 0 -6 0 M610.7 242m-3 0a3 3 0 1 0 6 0a3 3 0 1 0 -6 0 M611.7 248.3m-3 0a3 3 0 1 0 6 0a3 3 0 1 0 -6 0 M612.4 254.7m-3 0a3 3 0 1 0 6 0a3 3 0 1 0 -6 0 M612.9 261.1m-3 0a3 3 0 1 0 6 0a3 3 0 1 0 -6 0" fill="#cce2fc" stroke="#5083ca" stroke-width="1.3"/>
<g stroke="#d49a68" stroke-width="0.8">
<ellipse cx="386" cy="350" rx="132" ry="101" fill="url(#nside)"/>
<path d="M252.6,318.9 L254,350 L518,350 L524,318.9 Z" fill="url(#nside)" stroke="none"/>
<line x1="252.6" y1="318.9" x2="254" y2="350"/>
<line x1="524" y1="318.9" x2="518" y2="350"/>
<ellipse cx="388.3" cy="318.9" rx="135.7" ry="101" fill="#fcd6a4"/>
<ellipse cx="388.8" cy="318.5" rx="130" ry="95.5" fill="url(#nface)" stroke="#e3a266" stroke-width="0.6"/>
</g>
<path d="M301,281 C306,283 303,300 300,315 C297,330 296,338 285,339 C274,339 271,330 273,318 C276,300 290,283 301,281 Z" fill="#f8c792" opacity="0.9"/>
<path d="M298,266.7 L298.7,266.6 L299.4,266.5 L300.1,266.4 L300.8,266.1 L301.5,265.9 L302.2,265.5 L302.8,265.2 L303.5,264.8 L304.2,264.4 L304.9,263.9 L305.6,263.5 L306.3,263 L307,262.5" fill="none" stroke="#6378c2" stroke-width="3"/><path d="M298,258.3 L298.7,258.4 L299.4,258.5 L300.1,258.6 L300.8,258.9 L301.5,259.1 L302.2,259.5 L302.8,259.8 L303.5,260.2 L304.2,260.6 L304.9,261.1 L305.6,261.5 L306.3,262 L307,262.5" fill="none" stroke="#e05a6c" stroke-width="3"/><path d="M307,262.5 L307.7,263 L308.3,263.4 L309,263.9 L309.7,264.3 L310.3,264.7 L311,265.1 L311.7,265.5 L312.4,265.8 L313,266.1 L313.7,266.3 L314.4,266.5 L315,266.6 L315.7,266.7 L316.4,266.7 L317,266.7 L317.7,266.6 L318.4,266.5 L319.1,266.3 L319.7,266.1 L320.4,265.8 L321.1,265.5 L321.7,265.1 L322.4,264.7 L323.1,264.3 L323.7,263.9 L324.4,263.4 L325.1,263 L325.8,262.5" fill="none" stroke="#e05a6c" stroke-width="3"/><path d="M307,262.5 L307.7,262 L308.3,261.6 L309,261.1 L309.7,260.7 L310.3,260.3 L311,259.9 L311.7,259.5 L312.4,259.2 L313,258.9 L313.7,258.7 L314.4,258.5 L315,258.4 L315.7,258.3 L316.4,258.3 L317,258.3 L317.7,258.4 L318.4,258.5 L319.1,258.7 L319.7,258.9 L320.4,259.2 L321.1,259.5 L321.7,259.9 L322.4,260.3 L323.1,260.7 L323.7,261.1 L324.4,261.6 L325.1,262 L325.8,262.5" fill="none" stroke="#6378c2" stroke-width="3"/><path d="M325.8,262.5 L326.4,263 L327.1,263.4 L327.8,263.9 L328.4,264.3 L329.1,264.7 L329.8,265.1 L330.4,265.5 L331.1,265.8 L331.8,266.1 L332.4,266.3 L333.1,266.5 L333.8,266.6 L334.5,266.7 L335.1,266.7 L335.8,266.7 L336.5,266.6 L337.1,266.5 L337.8,266.3 L338.5,266.1 L339.1,265.8 L339.8,265.5 L340.5,265.1 L341.2,264.7 L341.8,264.3 L342.5,263.9 L343.2,263.4 L343.8,263 L344.5,262.5" fill="none" stroke="#6378c2" stroke-width="3"/><path d="M325.8,262.5 L326.4,262 L327.1,261.6 L327.8,261.1 L328.4,260.7 L329.1,260.3 L329.8,259.9 L330.4,259.5 L331.1,259.2 L331.8,258.9 L332.4,258.7 L333.1,258.5 L333.8,258.4 L334.5,258.3 L335.1,258.3 L335.8,258.3 L336.5,258.4 L337.1,258.5 L337.8,258.7 L338.5,258.9 L339.1,259.2 L339.8,259.5 L340.5,259.9 L341.2,260.3 L341.8,260.7 L342.5,261.1 L343.2,261.6 L343.8,262 L344.5,262.5" fill="none" stroke="#e05a6c" stroke-width="3"/><path d="M344.5,262.5 L345.2,263 L345.8,263.4 L346.5,263.9 L347.2,264.3 L347.8,264.7 L348.5,265.1 L349.2,265.5 L349.9,265.8 L350.5,266.1 L351.2,266.3 L351.9,266.5 L352.5,266.6 L353.2,266.7 L353.9,266.7 L354.5,266.7 L355.2,266.6 L355.9,266.5 L356.6,266.3 L357.2,266.1 L357.9,265.8 L358.6,265.5 L359.2,265.1 L359.9,264.7 L360.6,264.3 L361.2,263.9 L361.9,263.4 L362.6,263 L363.2,262.5" fill="none" stroke="#e05a6c" stroke-width="3"/><path d="M344.5,262.5 L345.2,262 L345.8,261.6 L346.5,261.1 L347.2,260.7 L347.8,260.3 L348.5,259.9 L349.2,259.5 L349.9,259.2 L350.5,258.9 L351.2,258.7 L351.9,258.5 L352.5,258.4 L353.2,258.3 L353.9,258.3 L354.5,258.3 L355.2,258.4 L355.9,258.5 L356.6,258.7 L357.2,258.9 L357.9,259.2 L358.6,259.5 L359.2,259.9 L359.9,260.3 L360.6,260.7 L361.2,261.1 L361.9,261.6 L362.6,262 L363.2,262.5" fill="none" stroke="#6378c2" stroke-width="3"/><path d="M363.2,262.5 L363.9,263 L364.6,263.4 L365.3,263.9 L365.9,264.3 L366.6,264.7 L367.3,265.1 L367.9,265.5 L368.6,265.8 L369.3,266.1 L369.9,266.3 L370.6,266.5 L371.3,266.6 L372,266.7 L372.6,266.7 L373.3,266.7 L374,266.6 L374.6,266.5 L375.3,266.3 L376,266.1 L376.6,265.8 L377.3,265.5 L378,265.1 L378.7,264.7 L379.3,264.3 L380,263.9 L380.7,263.4 L381.3,263 L382,262.5" fill="none" stroke="#6378c2" stroke-width="3"/><path d="M363.2,262.5 L363.9,262 L364.6,261.6 L365.3,261.1 L365.9,260.7 L366.6,260.3 L367.3,259.9 L367.9,259.5 L368.6,259.2 L369.3,258.9 L369.9,258.7 L370.6,258.5 L371.3,258.4 L372,258.3 L372.6,258.3 L373.3,258.3 L374,258.4 L374.6,258.5 L375.3,258.7 L376,258.9 L376.6,259.2 L377.3,259.5 L378,259.9 L378.7,260.3 L379.3,260.7 L380,261.1 L380.7,261.6 L381.3,262 L382,262.5" fill="none" stroke="#e05a6c" stroke-width="3"/><path d="M382,262.5 L382.7,263 L383.3,263.4 L384,263.9 L384.7,264.3 L385.3,264.7 L386,265.1 L386.7,265.5 L387.4,265.8 L388,266.1 L388.7,266.3 L389.4,266.5 L390,266.6 L390.7,266.7 L391.4,266.7 L392,266.7 L392.7,266.6 L393.4,266.5 L394.1,266.3 L394.7,266.1 L395.4,265.8 L396.1,265.5 L396.7,265.1 L397.4,264.7 L398.1,264.3 L398.7,263.9 L399.4,263.4 L400.1,263 L400.8,262.5" fill="none" stroke="#e05a6c" stroke-width="3"/><path d="M382,262.5 L382.7,262 L383.3,261.6 L384,261.1 L384.7,260.7 L385.3,260.3 L386,259.9 L386.7,259.5 L387.4,259.2 L388,258.9 L388.7,258.7 L389.4,258.5 L390,258.4 L390.7,258.3 L391.4,258.3 L392,258.3 L392.7,258.4 L393.4,258.5 L394.1,258.7 L394.7,258.9 L395.4,259.2 L396.1,259.5 L396.7,259.9 L397.4,260.3 L398.1,260.7 L398.7,261.1 L399.4,261.6 L400.1,262 L400.8,262.5" fill="none" stroke="#6378c2" stroke-width="3"/><path d="M400.8,262.5 L401.4,263 L402.1,263.4 L402.8,263.9 L403.4,264.3 L404.1,264.7 L404.8,265.1 L405.4,265.5 L406.1,265.8 L406.8,266.1 L407.4,266.3 L408.1,266.5 L408.8,266.6 L409.5,266.7 L410.1,266.7 L410.8,266.7 L411.5,266.6 L412.1,266.5 L412.8,266.3 L413.5,266.1 L414.1,265.8 L414.8,265.5 L415.5,265.1 L416.2,264.7 L416.8,264.3 L417.5,263.9 L418.2,263.4 L418.8,263 L419.5,262.5" fill="none" stroke="#6378c2" stroke-width="3"/><path d="M400.8,262.5 L401.4,262 L402.1,261.6 L402.8,261.1 L403.4,260.7 L404.1,260.3 L404.8,259.9 L405.4,259.5 L406.1,259.2 L406.8,258.9 L407.4,258.7 L408.1,258.5 L408.8,258.4 L409.5,258.3 L410.1,258.3 L410.8,258.3 L411.5,258.4 L412.1,258.5 L412.8,258.7 L413.5,258.9 L414.1,259.2 L414.8,259.5 L415.5,259.9 L416.2,260.3 L416.8,260.7 L417.5,261.1 L418.2,261.6 L418.8,262 L419.5,262.5" fill="none" stroke="#e05a6c" stroke-width="3"/><path d="M419.5,262.5 L420.2,263 L420.8,263.4 L421.5,263.9 L422.2,264.3 L422.8,264.7 L423.5,265.1 L424.2,265.5 L424.9,265.8 L425.5,266.1 L426.2,266.3 L426.9,266.5 L427.5,266.6 L428.2,266.7 L428.9,266.7 L429.5,266.7 L430.2,266.6 L430.9,266.5 L431.6,266.3 L432.2,266.1 L432.9,265.8 L433.6,265.5 L434.2,265.1 L434.9,264.7 L435.6,264.3 L436.2,263.9 L436.9,263.4 L437.6,263 L438.2,262.5" fill="none" stroke="#e05a6c" stroke-width="3"/><path d="M419.5,262.5 L420.2,262 L420.8,261.6 L421.5,261.1 L422.2,260.7 L422.8,260.3 L423.5,259.9 L424.2,259.5 L424.9,259.2 L425.5,258.9 L426.2,258.7 L426.9,258.5 L427.5,258.4 L428.2,258.3 L428.9,258.3 L429.5,258.3 L430.2,258.4 L430.9,258.5 L431.6,258.7 L432.2,258.9 L432.9,259.2 L433.6,259.5 L434.2,259.9 L434.9,260.3 L435.6,260.7 L436.2,261.1 L436.9,261.6 L437.6,262 L438.2,262.5" fill="none" stroke="#6378c2" stroke-width="3"/><path d="M438.2,262.5 L438.9,263 L439.6,263.4 L440.3,263.9 L440.9,264.3 L441.6,264.8 L442.3,265.1 L443,265.5 L443.6,265.8 L444.3,266.1 L445,266.3" fill="none" stroke="#6378c2" stroke-width="3"/><path d="M438.2,262.5 L438.9,262 L439.6,261.6 L440.3,261.1 L440.9,260.7 L441.6,260.2 L442.3,259.9 L443,259.5 L443.6,259.2 L444.3,258.9 L445,258.7" fill="none" stroke="#e05a6c" stroke-width="3"/>
<path d="M300,383.1 L300.7,382.6 L301.3,382.1 L302,381.5" fill="none" stroke="#6378c2" stroke-width="3"/><path d="M300,379.9 L300.7,380.4 L301.3,380.9 L302,381.5" fill="none" stroke="#e05a6c" stroke-width="3"/><path d="M302,381.5 L302.7,382.1 L303.3,382.6 L304,383.1 L304.7,383.7 L305.3,384.1 L306,384.6 L306.7,385 L307.3,385.4 L308,385.7 L308.7,385.9 L309.3,386.1 L310,386.2 L310.7,386.3 L311.3,386.3 L312,386.2 L312.7,386.1 L313.3,385.9 L314,385.7 L314.7,385.4 L315.3,385 L316,384.6 L316.7,384.1 L317.3,383.7 L318,383.1 L318.7,382.6 L319.3,382.1 L320,381.5" fill="none" stroke="#e05a6c" stroke-width="3"/><path d="M302,381.5 L302.7,380.9 L303.3,380.4 L304,379.9 L304.7,379.3 L305.3,378.9 L306,378.4 L306.7,378 L307.3,377.6 L308,377.3 L308.7,377.1 L309.3,376.9 L310,376.8 L310.7,376.7 L311.3,376.7 L312,376.8 L312.7,376.9 L313.3,377.1 L314,377.3 L314.7,377.6 L315.3,378 L316,378.4 L316.7,378.9 L317.3,379.3 L318,379.9 L318.7,380.4 L319.3,380.9 L320,381.5" fill="none" stroke="#6378c2" stroke-width="3"/><path d="M320,381.5 L320.7,382.1 L321.3,382.6 L322,383.1 L322.7,383.7 L323.3,384.1 L324,384.6 L324.7,385 L325.3,385.4 L326,385.7 L326.7,385.9 L327.3,386.1 L328,386.2 L328.7,386.3 L329.3,386.3 L330,386.2 L330.7,386.1 L331.3,385.9 L332,385.7 L332.7,385.4 L333.3,385 L334,384.6 L334.7,384.1 L335.3,383.7 L336,383.1 L336.7,382.6 L337.3,382.1 L338,381.5" fill="none" stroke="#6378c2" stroke-width="3"/><path d="M320,381.5 L320.7,380.9 L321.3,380.4 L322,379.9 L322.7,379.3 L323.3,378.9 L324,378.4 L324.7,378 L325.3,377.6 L326,377.3 L326.7,377.1 L327.3,376.9 L328,376.8 L328.7,376.7 L329.3,376.7 L330,376.8 L330.7,376.9 L331.3,377.1 L332,377.3 L332.7,377.6 L333.3,378 L334,378.4 L334.7,378.9 L335.3,379.3 L336,379.9 L336.7,380.4 L337.3,380.9 L338,381.5" fill="none" stroke="#e05a6c" stroke-width="3"/><path d="M338,381.5 L338.7,382.1 L339.3,382.6 L340,383.1 L340.7,383.7 L341.3,384.1 L342,384.6 L342.7,385 L343.3,385.4 L344,385.7 L344.7,385.9 L345.3,386.1 L346,386.2 L346.7,386.3 L347.3,386.3 L348,386.2 L348.7,386.1 L349.3,385.9 L350,385.7 L350.7,385.4 L351.3,385 L352,384.6 L352.7,384.1 L353.3,383.7 L354,383.1 L354.7,382.6 L355.3,382.1 L356,381.5" fill="none" stroke="#e05a6c" stroke-width="3"/><path d="M338,381.5 L338.7,380.9 L339.3,380.4 L340,379.9 L340.7,379.3 L341.3,378.9 L342,378.4 L342.7,378 L343.3,377.6 L344,377.3 L344.7,377.1 L345.3,376.9 L346,376.8 L346.7,376.7 L347.3,376.7 L348,376.8 L348.7,376.9 L349.3,377.1 L350,377.3 L350.7,377.6 L351.3,378 L352,378.4 L352.7,378.9 L353.3,379.3 L354,379.9 L354.7,380.4 L355.3,380.9 L356,381.5" fill="none" stroke="#6378c2" stroke-width="3"/><path d="M356,381.5 L356.7,382.1 L357.3,382.6 L358,383.1 L358.7,383.7 L359.3,384.1 L360,384.6 L360.7,385 L361.3,385.4 L362,385.7 L362.7,385.9 L363.3,386.1 L364,386.2 L364.7,386.3 L365.3,386.3 L366,386.2 L366.7,386.1 L367.3,385.9 L368,385.7 L368.7,385.4 L369.3,385 L370,384.6 L370.7,384.1 L371.3,383.7 L372,383.1 L372.7,382.6 L373.3,382.1 L374,381.5" fill="none" stroke="#6378c2" stroke-width="3"/><path d="M356,381.5 L356.7,380.9 L357.3,380.4 L358,379.9 L358.7,379.3 L359.3,378.9 L360,378.4 L360.7,378 L361.3,377.6 L362,377.3 L362.7,377.1 L363.3,376.9 L364,376.8 L364.7,376.7 L365.3,376.7 L366,376.8 L366.7,376.9 L367.3,377.1 L368,377.3 L368.7,377.6 L369.3,378 L370,378.4 L370.7,378.9 L371.3,379.3 L372,379.9 L372.7,380.4 L373.3,380.9 L374,381.5" fill="none" stroke="#e05a6c" stroke-width="3"/><path d="M374,381.5 L374.7,382.1 L375.3,382.6 L376,383.1 L376.7,383.7 L377.3,384.1 L378,384.6 L378.7,385 L379.3,385.4 L380,385.7 L380.7,385.9 L381.3,386.1 L382,386.2 L382.7,386.3 L383.3,386.3 L384,386.2 L384.7,386.1 L385.3,385.9 L386,385.7 L386.7,385.4 L387.3,385 L388,384.6 L388.7,384.1 L389.3,383.7 L390,383.1 L390.7,382.6 L391.3,382.1 L392,381.5" fill="none" stroke="#e05a6c" stroke-width="3"/><path d="M374,381.5 L374.7,380.9 L375.3,380.4 L376,379.9 L376.7,379.3 L377.3,378.9 L378,378.4 L378.7,378 L379.3,377.6 L380,377.3 L380.7,377.1 L381.3,376.9 L382,376.8 L382.7,376.7 L383.3,376.7 L384,376.8 L384.7,376.9 L385.3,377.1 L386,377.3 L386.7,377.6 L387.3,378 L388,378.4 L388.7,378.9 L389.3,379.3 L390,379.9 L390.7,380.4 L391.3,380.9 L392,381.5" fill="none" stroke="#6378c2" stroke-width="3"/><path d="M392,381.5 L392.7,382.1 L393.3,382.6 L394,383.1 L394.7,383.7 L395.3,384.1 L396,384.6 L396.7,385 L397.3,385.4 L398,385.7 L398.7,385.9 L399.3,386.1 L400,386.2 L400.7,386.3 L401.3,386.3 L402,386.2 L402.7,386.1 L403.3,385.9 L404,385.7 L404.7,385.4 L405.3,385 L406,384.6 L406.7,384.1 L407.3,383.7 L408,383.1 L408.7,382.6 L409.3,382.1 L410,381.5" fill="none" stroke="#6378c2" stroke-width="3"/><path d="M392,381.5 L392.7,380.9 L393.3,380.4 L394,379.9 L394.7,379.3 L395.3,378.9 L396,378.4 L396.7,378 L397.3,377.6 L398,377.3 L398.7,377.1 L399.3,376.9 L400,376.8 L400.7,376.7 L401.3,376.7 L402,376.8 L402.7,376.9 L403.3,377.1 L404,377.3 L404.7,377.6 L405.3,378 L406,378.4 L406.7,378.9 L407.3,379.3 L408,379.9 L408.7,380.4 L409.3,380.9 L410,381.5" fill="none" stroke="#e05a6c" stroke-width="3"/><path d="M410,381.5 L410.7,382.1 L411.3,382.6 L412,383.1 L412.7,383.7 L413.3,384.1 L414,384.6 L414.7,385 L415.3,385.4 L416,385.7 L416.7,385.9 L417.3,386.1 L418,386.2 L418.7,386.3 L419.3,386.3 L420,386.2 L420.7,386.1 L421.3,385.9 L422,385.7 L422.7,385.4 L423.3,385 L424,384.6 L424.7,384.1 L425.3,383.7 L426,383.1 L426.7,382.6 L427.3,382.1 L428,381.5" fill="none" stroke="#e05a6c" stroke-width="3"/><path d="M410,381.5 L410.7,380.9 L411.3,380.4 L412,379.9 L412.7,379.3 L413.3,378.9 L414,378.4 L414.7,378 L415.3,377.6 L416,377.3 L416.7,377.1 L417.3,376.9 L418,376.8 L418.7,376.7 L419.3,376.7 L420,376.8 L420.7,376.9 L421.3,377.1 L422,377.3 L422.7,377.6 L423.3,378 L424,378.4 L424.7,378.9 L425.3,379.3 L426,379.9 L426.7,380.4 L427.3,380.9 L428,381.5" fill="none" stroke="#6378c2" stroke-width="3"/><path d="M428,381.5 L428.7,382.1 L429.3,382.6 L430,383.1 L430.7,383.7 L431.3,384.1 L432,384.6 L432.7,385 L433.3,385.4 L434,385.7 L434.7,385.9 L435.3,386.1 L436,386.2 L436.7,386.3 L437.3,386.3 L438,386.2 L438.7,386.1 L439.3,385.9 L440,385.7 L440.7,385.4 L441.3,385 L442,384.6 L442.7,384.1 L443.3,383.7 L444,383.1 L444.7,382.6 L445.3,382.1 L446,381.5" fill="none" stroke="#6378c2" stroke-width="3"/><path d="M428,381.5 L428.7,380.9 L429.3,380.4 L430,379.9 L430.7,379.3 L431.3,378.9 L432,378.4 L432.7,378 L433.3,377.6 L434,377.3 L434.7,377.1 L435.3,376.9 L436,376.8 L436.7,376.7 L437.3,376.7 L438,376.8 L438.7,376.9 L439.3,377.1 L440,377.3 L440.7,377.6 L441.3,378 L442,378.4 L442.7,378.9 L443.3,379.3 L444,379.9 L444.7,380.4 L445.3,380.9 L446,381.5" fill="none" stroke="#e05a6c" stroke-width="3"/><path d="M446,381.5 L446.8,382.1 L447.5,382.7 L448.2,383.3 L449,383.9" fill="none" stroke="#e05a6c" stroke-width="3"/><path d="M446,381.5 L446.8,380.9 L447.5,380.3 L448.2,379.7 L449,379.1" fill="none" stroke="#6378c2" stroke-width="3"/>
<rect x="343.5" y="270.5" width="47.5" height="14" rx="7" fill="#c7b3e3" opacity="1"/>
<rect x="343.5" y="289" width="69.5" height="14.5" rx="7.2" fill="#b2c6e2" opacity="1"/>
<rect x="414.5" y="289" width="69.5" height="14.5" rx="7.2" fill="#a6d2d6" opacity="1"/>
<rect x="355.5" y="332.8" width="101" height="15.6" rx="7.8" fill="#fde6cf" opacity="1"/>
<rect x="364" y="359.5" width="48" height="13" rx="6.5" fill="#fbf2b4" opacity="1"/>
<text x="346.5" y="282" font-size="12" fill="#3d3a55" text-anchor="start" font-weight="normal" font-family="Liberation Sans, sans-serif" >TTYH3</text>
<path d="M387,285.6 L387,277.3" stroke="#d8306a" stroke-width="1.6"/><path d="M384.4,278.5 L387,274.3 L389.6,278.5 Z" fill="#d8306a"/>
<text x="345.5" y="300.5" font-size="12" fill="#34405a" text-anchor="start" font-weight="normal" font-family="Liberation Sans, sans-serif" >N-Cadherin</text>
<path d="M410,301.8 L410,295.5" stroke="#d8306a" stroke-width="1.6"/><path d="M407.4,296.7 L410,292.5 L412.6,296.7 Z" fill="#d8306a"/>
<text x="416" y="300.5" font-size="11.8" fill="#2f4a52" text-anchor="start" font-weight="normal" font-family="Liberation Sans, sans-serif" >E-Cadherin</text>
<path d="M478.2,291.7 L478.2,298.6" stroke="#3a8ad0" stroke-width="1.6"/><path d="M475.6,297.4 L478.2,301.6 L480.8,297.4 Z" fill="#3a8ad0"/>
<text x="406.5" y="345" font-size="11.7" fill="#4a3f3a" text-anchor="middle" font-weight="normal" font-family="Liberation Sans, sans-serif" >Tumor metastasis</text>
<text x="365.5" y="371" font-size="12" fill="#3c4a2a" text-anchor="start" font-weight="normal" font-family="Liberation Sans, sans-serif" >TTYH3</text>
<path d="M407,372.5 L407,365.5" stroke="#c0582a" stroke-width="1.6"/><path d="M404.4,366.7 L407,362.5 L409.6,366.7 Z" fill="#c0582a"/>
<text x="389" y="401" font-size="11.5" fill="#4a362a" text-anchor="middle" font-weight="normal" font-family="Liberation Sans, sans-serif" >DNA hypomethylation</text>
<line x1="322.7" y1="372" x2="322.7" y2="379" stroke="#6a4a3a" stroke-width="0.8"/>
<circle cx="322.7" cy="369.7" r="2.8" fill="#ffffff" stroke="#5a4a40" stroke-width="0.8"/>
<line x1="329.8" y1="372" x2="329.8" y2="379" stroke="#6a4a3a" stroke-width="0.8"/>
<circle cx="329.8" cy="369.7" r="2.8" fill="#ffffff" stroke="#5a4a40" stroke-width="0.8"/>
<line x1="336.5" y1="372" x2="336.5" y2="379" stroke="#6a4a3a" stroke-width="0.8"/>
<circle cx="336.5" cy="369.7" r="2.8" fill="#ffffff" stroke="#5a4a40" stroke-width="0.8"/>
<path d="M313.7,267 L313.7,276.5 L338,276.5" fill="none" stroke="#4a3a30" stroke-width="0.9"/>
<path d="M336,274 L342,276.5 L336,279 Z" fill="#4a3a30"/>
<path d="M434.5,377 L434.5,369.2 L418,369.2" fill="none" stroke="#5a4632" stroke-width="1"/>
<path d="M420.5,366.7 L414.6,369.2 L420.5,371.7 Z" fill="#5a4632"/>
<path d="M407.4,306.5 L407.4,324" stroke="#2e2e30" stroke-width="1.6"/>
<path d="M403,321 L407.4,329 L411.8,321 Z" fill="#2e2e30"/>
<path d="M463.5,273.5 C474,150 395,62 231,74" fill="none" stroke="#33373e" stroke-width="1.7"  marker-end="url(#ah)"/>
<path d="M362,364 C352.1,361.8 320.9,356.6 302.8,351 C284.7,345.4 263.6,335.1 253.6,330.5 C243.6,325.9 248.5,327.7 242.8,323.4 C237.1,319.1 226.8,310.8 219.2,304.5 C211.6,298.2 205.2,293 197.3,285.7 C189.4,278.4 179.9,271 172,260.5 C164.1,250 155.7,235.4 150,222.8 C144.3,210.2 140.4,194.3 137.6,185 C134.8,175.7 133.8,170 133,167" fill="none" stroke="#33373e" stroke-width="1.8" stroke-dasharray="7.5 5" marker-end="url(#ah)"/>
<path d="M162,58 C185,90 206,132 207.3,171" fill="none" stroke="#33373e" stroke-width="1.7"  marker-end="url(#ah)"/>
<path d="M244,208 C258,186 262,162 258.6,135.5" fill="none" stroke="#33373e" stroke-width="1.7"  marker-end="url(#ah)"/>
<path d="M280,102 C298,99 310,106 315,118" fill="none" stroke="#33373e" stroke-width="1.7"  marker-end="url(#ah)"/>
<path d="M369,147.5 C384,149 394,157 397,169" fill="none" stroke="#33373e" stroke-width="1.6"  marker-end="url(#ah)"/>
<path d="M416,203 C418,214 408,224 397,229" fill="none" stroke="#33373e" stroke-width="1.6"  marker-end="url(#ah)"/>
<g fill="none" stroke="#4e5359" stroke-width="2.1" stroke-linecap="round">
<path d="M121.5,92 C121,84 127,81 131,86"/>
<path d="M141.5,80 C142,73 148,71 151,77"/>
<path d="M164.5,72 C166,62 176,59 184,63"/>
<path d="M195.5,55 C197,45 204,42 208,49"/>
<path d="M157,125.5 C159,131 165,131 167,123"/>
<path d="M180.5,114.5 C183,117 186,114 185.5,109"/>
<path d="M202.5,100 C205,105 211,104 213,96"/>
<path d="M148.5,131 C150,138 146,146 131,152"/>
<path d="M226,90 C230,93 234,93 238,93"/>
<path d="M221.5,122.5 C221,115 226,110 233,108.5"/>
</g>
<linearGradient id="hx0" x1="125.5" y1="95" x2="148" y2="127.5" gradientUnits="userSpaceOnUse"><stop offset="0" stop-color="#f29ac6"/><stop offset="1" stop-color="#e84890"/></linearGradient>
<path d="M125.5,95 Q133.5,113.5 148,127.5" fill="none" stroke="url(#hx0)" stroke-width="10" stroke-linecap="round"/>
<linearGradient id="hx1" x1="135.5" y1="89" x2="157" y2="121" gradientUnits="userSpaceOnUse"><stop offset="0" stop-color="#b0de88"/><stop offset="1" stop-color="#4cae2c"/></linearGradient>
<path d="M135.5,89 Q141.3,108.3 157,121" fill="none" stroke="url(#hx1)" stroke-width="11.5" stroke-linecap="round"/>
<linearGradient id="hx2" x1="147" y1="84.5" x2="163.5" y2="117.5" gradientUnits="userSpaceOnUse"><stop offset="0" stop-color="#f7c896"/><stop offset="1" stop-color="#f07a1c"/></linearGradient>
<path d="M147,84.5 Q148.1,104.6 163.5,117.5" fill="none" stroke="url(#hx2)" stroke-width="11" stroke-linecap="round"/>
<linearGradient id="hx3" x1="156.5" y1="80.5" x2="176" y2="110.5" gradientUnits="userSpaceOnUse"><stop offset="0" stop-color="#fcecb0"/><stop offset="1" stop-color="#f6d020"/></linearGradient>
<path d="M156.5,80.5 Q159.5,99.9 176,110.5" fill="none" stroke="url(#hx3)" stroke-width="11.5" stroke-linecap="round"/>
<linearGradient id="hx4" x1="167" y1="77.5" x2="180.5" y2="104" gradientUnits="userSpaceOnUse"><stop offset="0" stop-color="#9ad6b4"/><stop offset="1" stop-color="#68ba88"/></linearGradient>
<path d="M167,77.5 Q168.4,93.5 180.5,104" fill="none" stroke="url(#hx4)" stroke-width="10" stroke-linecap="round"/>
<linearGradient id="hx5" x1="188" y1="66.5" x2="198.5" y2="96.5" gradientUnits="userSpaceOnUse"><stop offset="0" stop-color="#a484d0"/><stop offset="1" stop-color="#7642a6"/></linearGradient>
<path d="M188,66.5 Q190.4,82.5 198.5,96.5" fill="none" stroke="url(#hx5)" stroke-width="10.8" stroke-linecap="round"/>
<linearGradient id="hx6" x1="199.5" y1="58.5" x2="209.5" y2="92" gradientUnits="userSpaceOnUse"><stop offset="0" stop-color="#f29aa8"/><stop offset="1" stop-color="#e4385a"/></linearGradient>
<path d="M199.5,58.5 Q201.6,76.1 209.5,92" fill="none" stroke="url(#hx6)" stroke-width="11" stroke-linecap="round"/>
<linearGradient id="hx7" x1="211.5" y1="53" x2="222" y2="85.5" gradientUnits="userSpaceOnUse"><stop offset="0" stop-color="#8eaee2"/><stop offset="1" stop-color="#4a70c0"/></linearGradient>
<path d="M211.5,53 Q212,70.8 222,85.5" fill="none" stroke="url(#hx7)" stroke-width="11" stroke-linecap="round"/>
<text x="137.5" y="140" font-size="10" fill="#6a7888" text-anchor="middle" font-weight="normal" font-family="Liberation Sans, sans-serif" >N</text>
<text x="210" y="128" font-size="10" fill="#6a7888" text-anchor="middle" font-weight="normal" font-family="Liberation Sans, sans-serif" >C</text>
<circle cx="127.3" cy="16.6" r="16" fill="#f4eef8" opacity="0.8"/><circle cx="127.3" cy="16.6" r="14.8" fill="url(#purp)"/><ellipse cx="120.6" cy="9.2" rx="4.4" ry="2.7" fill="#ffffff" opacity="0.2" transform="rotate(-35 120.6 9.2)"/><text x="115.3" y="20.9" font-size="12" fill="#f4d8f4" font-family="Liberation Sans, sans-serif">Ca</text><text x="130.7" y="17" font-size="8" fill="#f4d8f4" font-family="Liberation Sans, sans-serif">2+</text>
<circle cx="168.6" cy="40.2" r="14.4" fill="#e8f4e0" opacity="0.8"/><circle cx="168.6" cy="40.2" r="13.2" fill="url(#grn)"/><ellipse cx="162.7" cy="33.6" rx="4" ry="2.4" fill="#ffffff" opacity="0.2" transform="rotate(-35 162.7 33.6)"/><text x="161.1" y="44.5" font-size="12" fill="#eef8e6" font-family="Liberation Sans, sans-serif">Cl</text><text x="172.2" y="40.7" font-size="8" fill="#e6f6e0" font-family="Liberation Sans, sans-serif">-</text>
<circle cx="85.4" cy="55.6" r="14.4" fill="#e8f4e0" opacity="0.8"/><circle cx="85.4" cy="55.6" r="13.2" fill="url(#grn)"/><ellipse cx="79.5" cy="49" rx="4" ry="2.4" fill="#ffffff" opacity="0.2" transform="rotate(-35 79.5 49)"/><text x="77.9" y="59.9" font-size="12" fill="#eef8e6" font-family="Liberation Sans, sans-serif">Cl</text><text x="89" y="56.1" font-size="8" fill="#e6f6e0" font-family="Liberation Sans, sans-serif">-</text>
<circle cx="122.5" cy="58.5" r="16.1" fill="#f4eef8" opacity="0.8"/><circle cx="122.5" cy="58.5" r="14.9" fill="url(#purp)"/><ellipse cx="115.8" cy="51" rx="4.5" ry="2.7" fill="#ffffff" opacity="0.2" transform="rotate(-35 115.8 51)"/><text x="110.5" y="62.8" font-size="12" fill="#f4d8f4" font-family="Liberation Sans, sans-serif">Ca</text><text x="125.9" y="58.9" font-size="8" fill="#f4d8f4" font-family="Liberation Sans, sans-serif">2+</text>
<circle cx="177.3" cy="184.9" r="15.9" fill="#f4eef8" opacity="0.8"/><circle cx="177.3" cy="184.9" r="14.7" fill="url(#purp)"/><ellipse cx="170.7" cy="177.6" rx="4.4" ry="2.6" fill="#ffffff" opacity="0.2" transform="rotate(-35 170.7 177.6)"/><text x="165.3" y="189.2" font-size="12" fill="#f4d8f4" font-family="Liberation Sans, sans-serif">Ca</text><text x="180.7" y="185.3" font-size="8" fill="#f4d8f4" font-family="Liberation Sans, sans-serif">2+</text>
<circle cx="216.6" cy="193.5" r="14.3" fill="#e0f0e0" opacity="0.8"/><circle cx="216.6" cy="193.5" r="13.1" fill="url(#lgrn)"/><ellipse cx="210.7" cy="186.9" rx="3.9" ry="2.4" fill="#ffffff" opacity="0.2" transform="rotate(-35 210.7 186.9)"/><text x="209.1" y="197.8" font-size="12" fill="#eef8e6" font-family="Liberation Sans, sans-serif">Cl</text><text x="220.2" y="194" font-size="8" fill="#e6f6e0" font-family="Liberation Sans, sans-serif">-</text>
<circle cx="203.3" cy="229" r="14.5" fill="#e0f0e0" opacity="0.8"/><circle cx="203.3" cy="229" r="13.3" fill="url(#lgrn)"/><ellipse cx="197.3" cy="222.3" rx="4" ry="2.4" fill="#ffffff" opacity="0.2" transform="rotate(-35 197.3 222.3)"/><text x="195.8" y="233.3" font-size="12" fill="#eef8e6" font-family="Liberation Sans, sans-serif">Cl</text><text x="206.9" y="229.5" font-size="8" fill="#e6f6e0" font-family="Liberation Sans, sans-serif">-</text>
<circle cx="247" cy="232" r="16.1" fill="#f4eef8" opacity="0.8"/><circle cx="247" cy="232" r="14.9" fill="url(#purp)"/><ellipse cx="240.3" cy="224.6" rx="4.5" ry="2.7" fill="#ffffff" opacity="0.2" transform="rotate(-35 240.3 224.6)"/><text x="235" y="236.3" font-size="12" fill="#f4d8f4" font-family="Liberation Sans, sans-serif">Ca</text><text x="250.4" y="232.4" font-size="8" fill="#f4d8f4" font-family="Liberation Sans, sans-serif">2+</text>
<ellipse cx="256.4" cy="104" rx="23" ry="15.5" fill="url(#mk5)"/>
<text x="256.4" y="109.2" font-size="14.5" fill="#fff0e0" text-anchor="middle" font-weight="normal" font-family="Liberation Sans, sans-serif" >MK5</text>
<ellipse cx="339.7" cy="133.2" rx="36.6" ry="15.9" fill="#9ccdf0" opacity="0.8"/>
<ellipse cx="339.7" cy="133.2" rx="35.8" ry="15.1" fill="url(#gsk)"/>
<text x="339.5" y="139" font-size="15.5" fill="#f0f8ff" text-anchor="middle" font-weight="normal" font-family="Liberation Sans, sans-serif" >GSK3β</text>
<circle cx="360.7" cy="115.4" r="10" fill="url(#pg)" stroke="#e8a040" stroke-width="0.8"/>
<text x="360.7" y="120.4" font-size="13" fill="#6a3a10" text-anchor="middle" font-weight="normal" font-family="Liberation Sans, sans-serif" >P</text>
<ellipse cx="402" cy="186.2" rx="43" ry="12" fill="url(#bcat)"/>
<text x="402" y="191.5" font-size="14" fill="#f4fff0" text-anchor="middle" font-weight="normal" font-family="Liberation Sans, sans-serif" >β-catenin</text>
<ellipse cx="369" cy="242" rx="38" ry="9.5" fill="url(#bcat)"/>
<text x="369" y="246.5" font-size="12" fill="#f4fff0" text-anchor="middle" font-weight="normal" font-family="Liberation Sans, sans-serif" >β-catenin</text>
<text x="4.2" y="187.8" font-size="14" fill="#2b2e33" text-anchor="start" font-weight="bold" font-family="Liberation Sans, sans-serif" >TTYH3</text>
<text x="67.8" y="255" font-size="13.7" fill="#2c3a4c" text-anchor="start" font-weight="bold" font-family="Liberation Sans, sans-serif" >HCC</text>
<text x="455.5" y="152" font-size="11.5" fill="#d9692a" text-anchor="start" font-weight="normal" font-family="Liberation Sans, sans-serif" >Positive</text>
<text x="455.5" y="165.5" font-size="11.5" fill="#d9692a" text-anchor="start" font-weight="normal" font-family="Liberation Sans, sans-serif" >Feedback</text>
</svg></body></html>
